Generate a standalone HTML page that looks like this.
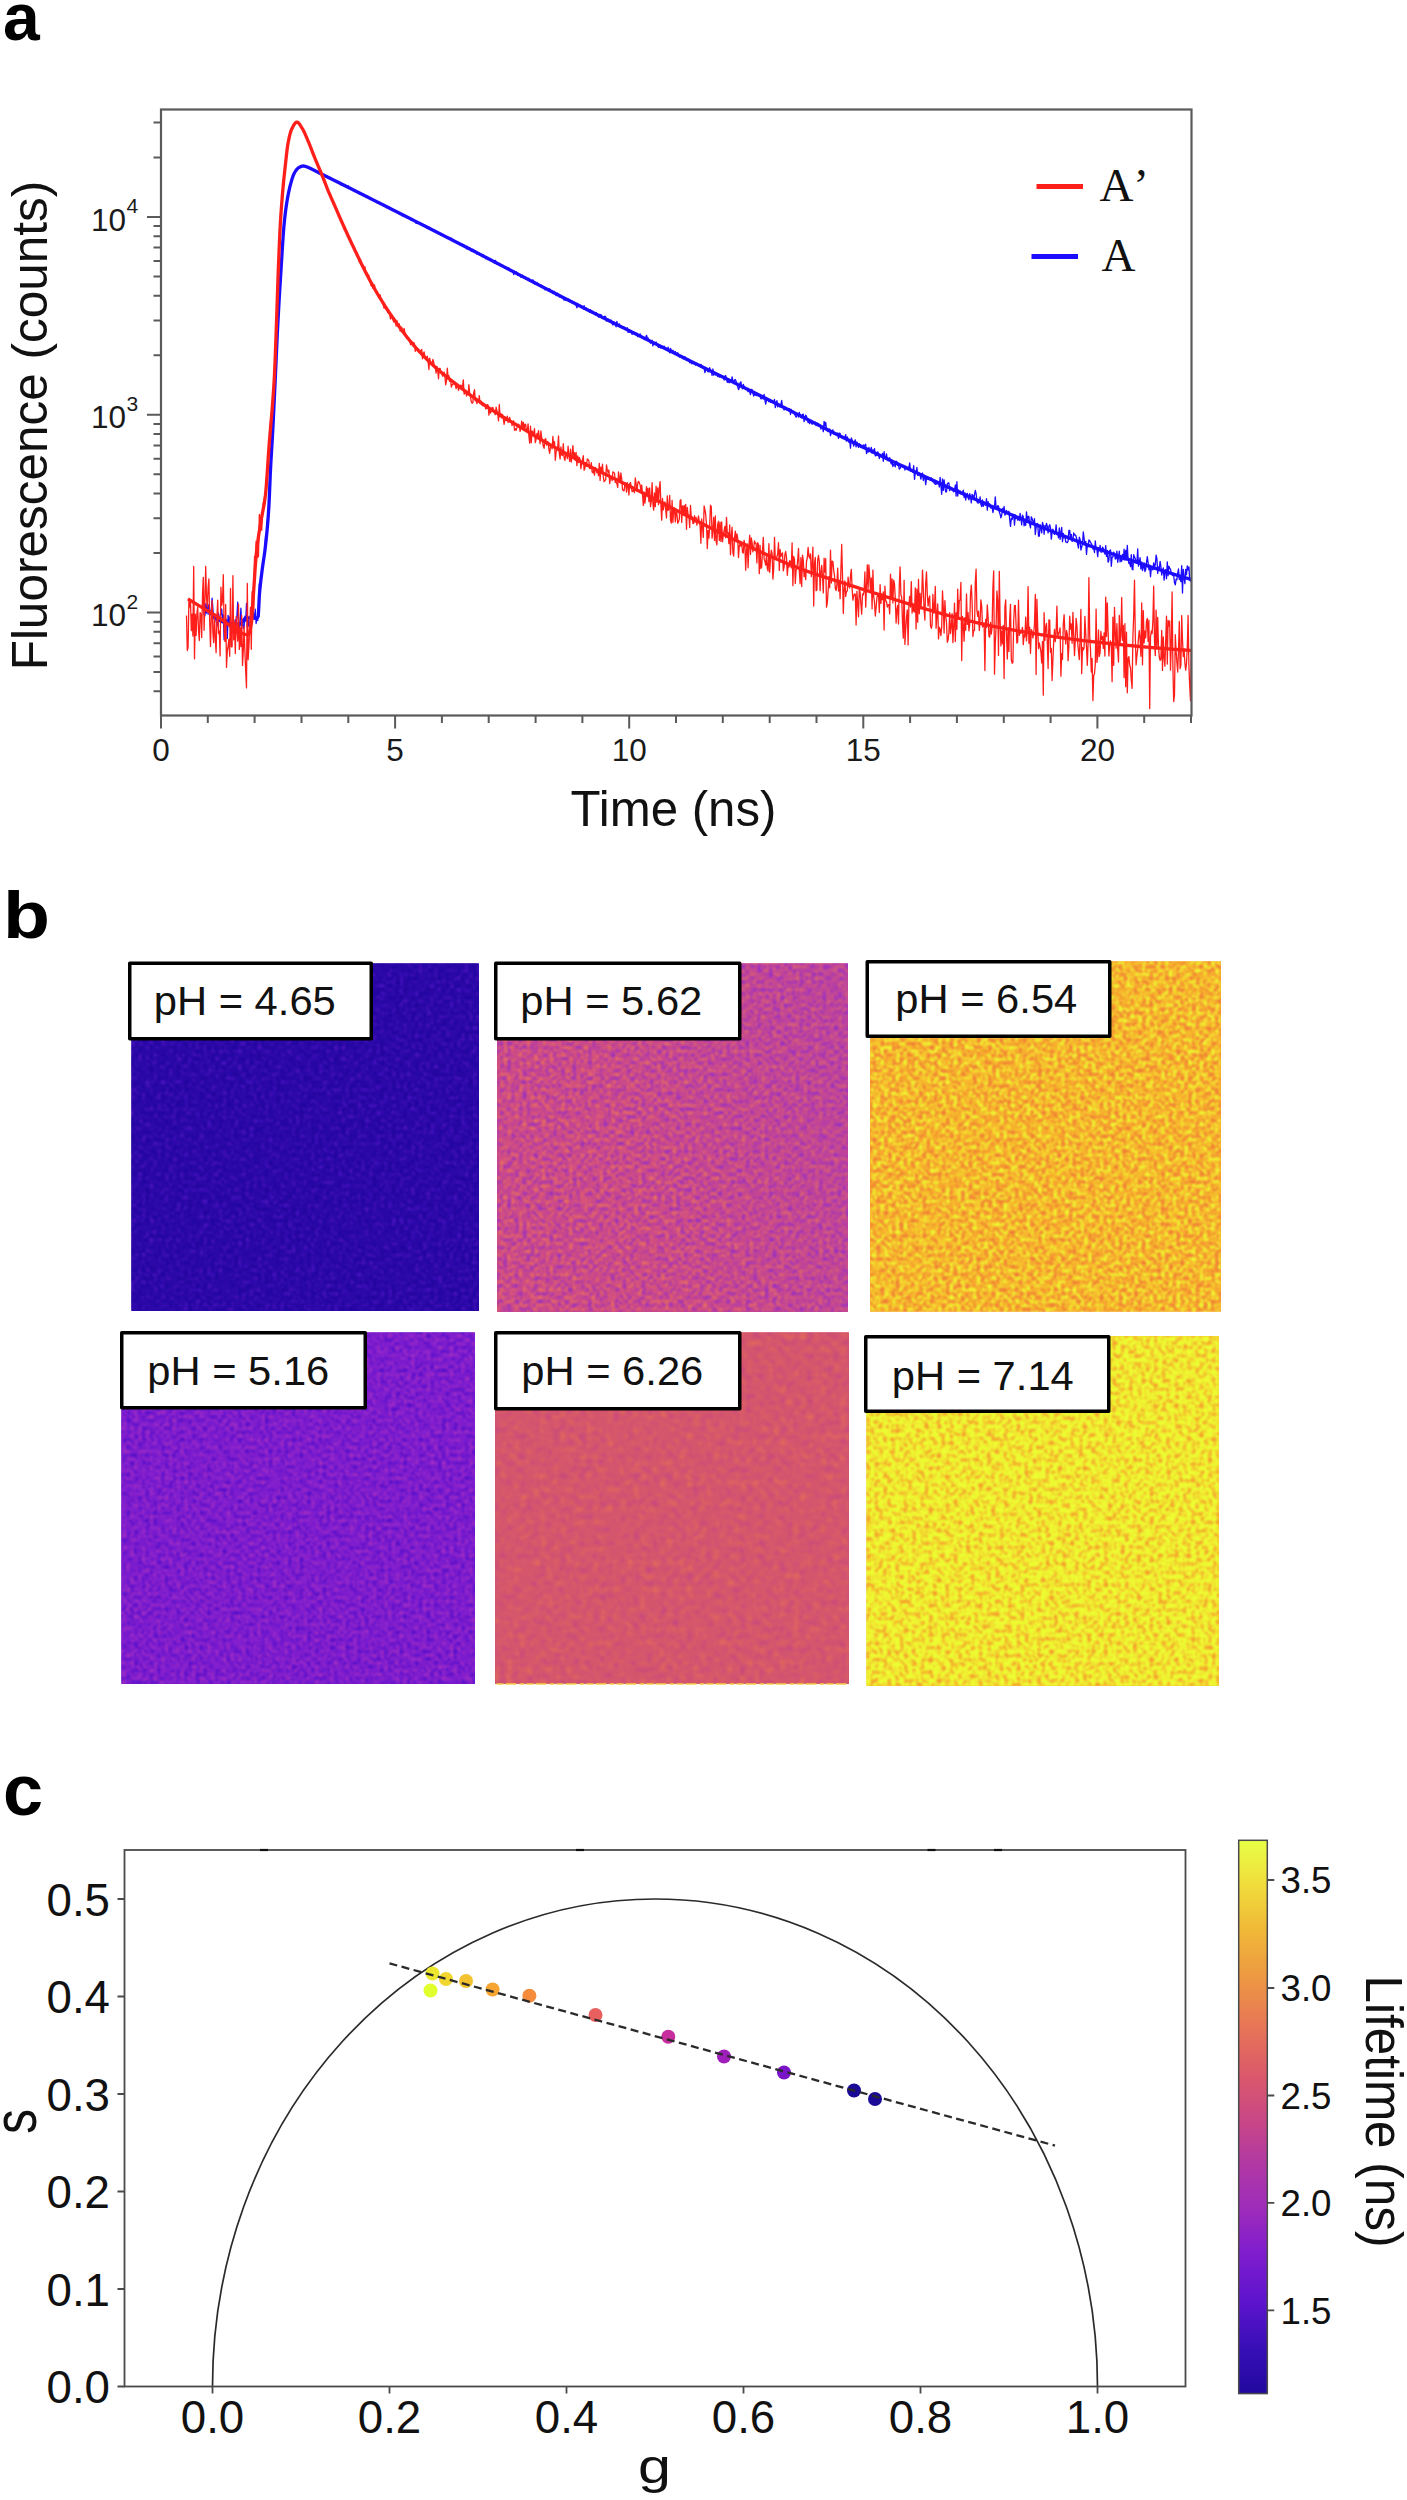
<!DOCTYPE html>
<html lang="en"><head><meta charset="utf-8"><title>Figure</title>
<style>html,body{margin:0;padding:0;background:#fff;}body{width:1407px;height:2500px;overflow:hidden;font-family:"Liberation Sans",sans-serif;}svg{display:block;}</style>
</head><body>
<svg width="1407" height="2500" viewBox="0 0 1407 2500">
<rect width="1407" height="2500" fill="#fff"/>
<g id="pa">
<path d="M153.5 691.3H161.0M153.5 672.1H161.0M153.5 656.5H161.0M153.5 643.2H161.0M153.5 631.8H161.0M153.5 621.7H161.0M147.0 612.6H161.0M153.5 553.1H161.0M153.5 518.2H161.0M153.5 493.5H161.0M153.5 474.3H161.0M153.5 458.7H161.0M153.5 445.4H161.0M153.5 434.0H161.0M153.5 423.9H161.0M147.0 414.8H161.0M153.5 355.3H161.0M153.5 320.4H161.0M153.5 295.7H161.0M153.5 276.5H161.0M153.5 260.9H161.0M153.5 247.6H161.0M153.5 236.2H161.0M153.5 226.1H161.0M147.0 217.0H161.0M153.5 157.5H161.0M153.5 122.6H161.0" stroke="#5a5a5a" stroke-width="2" fill="none"/>
<path d="M161.0 715.5v13M207.8 715.5v7.5M254.6 715.5v7.5M301.5 715.5v7.5M348.3 715.5v7.5M395.1 715.5v13M441.9 715.5v7.5M488.7 715.5v7.5M535.6 715.5v7.5M582.4 715.5v7.5M629.2 715.5v13M676.0 715.5v7.5M722.8 715.5v7.5M769.7 715.5v7.5M816.5 715.5v7.5M863.3 715.5v13M910.1 715.5v7.5M956.9 715.5v7.5M1003.8 715.5v7.5M1050.6 715.5v7.5M1097.4 715.5v13M1144.2 715.5v7.5M1191.0 715.5v7.5" stroke="#5a5a5a" stroke-width="2" fill="none"/>
<clipPath id="clipa"><rect x="161.0" y="109.5" width="1032.0" height="606.0"/></clipPath>
<g clip-path="url(#clipa)" fill="none" stroke-linejoin="round">
<path d="M203.3 602.4L204.1 614.4L204.9 615.8L205.7 609.0L206.5 613.0L207.3 603.1L208.1 614.3L208.9 604.7L209.7 610.8L210.5 611.9L211.3 610.1L212.1 598.1L212.9 608.8L213.7 618.7L214.5 616.3L215.3 614.3L216.1 621.4L216.9 624.1L217.7 625.9L218.5 613.1L219.3 620.2L220.1 617.8L220.9 613.7L221.7 609.0L222.5 620.8L223.3 614.7L224.1 639.8L224.9 621.6L225.7 620.8L226.5 619.5L227.3 638.5L228.1 615.3L228.9 621.9L229.7 617.0L230.5 622.5L231.3 623.3L232.1 632.8L232.9 611.9L233.7 623.6L234.5 637.2L235.3 619.6L236.1 622.4L236.9 616.5L237.7 602.1L238.5 623.0L239.3 633.6L240.1 620.0L240.9 608.2L241.7 624.9L242.5 622.3L243.3 628.5L244.1 626.6L244.9 616.2L245.7 621.1L246.5 603.5L247.3 626.8L248.1 619.3L248.9 626.5L249.7 626.3L250.5 615.6L251.3 616.7L252.1 610.9L252.9 601.4L253.7 616.8L254.5 619.1L255.3 609.2L256.1 623.5L256.9 618.6L257.7 620.6L258.5 607.8L259.3 584.0L260.1 592.0L260.9 583.7L261.7 572.9L262.5 564.9L263.3 560.2L264.1 555.6L264.9 547.9L265.7 533.9L266.5 539.8L267.3 521.2L268.1 516.7L268.9 505.1L269.7 489.3L270.5 464.6L271.3 458.5L272.1 443.5L272.9 429.2L273.7 414.2L274.5 393.2L275.3 372.6L276.1 360.7L276.9 344.3L277.7 327.6L278.5 310.7L279.3 297.4L280.1 284.6L280.9 269.9L281.7 258.1L282.5 245.4L283.3 235.3L284.1 223.9L284.9 217.7L285.7 210.1L286.5 203.3L287.3 200.8L288.1 194.4L288.9 191.4L289.7 188.6L290.5 184.2L291.3 180.9L292.1 179.4L292.9 176.5L293.7 173.8L294.5 172.3L295.3 171.3L296.1 170.8L296.9 169.1L297.7 168.8L298.5 168.6L299.3 167.9L300.1 167.6L300.9 167.2L301.7 165.5L302.5 166.7L303.3 166.2L304.1 166.0L304.9 165.7L305.7 165.7L306.5 166.2L307.3 167.0L308.1 166.8L308.9 167.3L309.7 167.8L310.5 168.8L311.3 168.7L312.1 169.2L312.9 170.3L313.7 169.9L314.5 170.8L315.3 170.3L316.1 171.5L316.9 171.8L317.7 172.2L318.5 172.3L319.3 172.4L320.1 173.2L320.9 173.5L321.7 174.7L322.5 175.0L323.3 174.3L324.1 175.7L324.9 175.5L325.7 176.4L326.5 176.3L327.3 176.1L328.1 177.9L328.9 178.0L329.7 177.4L330.5 177.5L331.3 178.6L332.1 178.7L332.9 179.5L333.7 180.4L334.5 181.3L335.3 180.7L336.1 182.1L336.9 182.3L337.7 181.9L338.5 181.6L339.3 183.4L340.1 183.6L340.9 185.0L341.7 184.9L342.5 184.9L343.3 185.9L344.1 184.7L344.9 185.8L345.7 185.9L346.5 187.5L347.3 187.2L348.1 185.6L348.9 188.5L349.7 187.6L350.5 189.0L351.3 188.6L352.1 189.4L352.9 190.1L353.7 190.2L354.5 189.9L355.3 191.7L356.1 191.5L356.9 191.7L357.7 192.5L358.5 192.2L359.3 194.1L360.1 193.5L360.9 193.9L361.7 194.3L362.5 194.0L363.3 194.2L364.1 195.5L364.9 196.0L365.7 197.0L366.5 196.8L367.3 196.3L368.1 197.7L368.9 198.3L369.7 198.8L370.5 198.8L371.3 198.2L372.1 200.1L372.9 199.3L373.7 200.5L374.5 199.6L375.3 201.5L376.1 200.9L376.9 202.5L377.7 203.3L378.5 203.3L379.3 202.3L380.1 202.8L380.9 203.3L381.7 204.6L382.5 204.8L383.3 205.1L384.1 205.6L384.9 206.2L385.7 206.7L386.5 207.7L387.3 207.0L388.1 207.6L388.9 206.6L389.7 207.4L390.5 208.2L391.3 208.3L392.1 209.6L392.9 210.6L393.7 210.0L394.5 210.4L395.3 210.7L396.1 211.6L396.9 211.5L397.7 212.6L398.5 212.9L399.3 213.3L400.1 214.0L400.9 213.9L401.7 214.4L402.5 215.9L403.3 215.1L404.1 216.1L404.9 216.0L405.7 216.0L406.5 216.4L407.3 216.6L408.1 217.6L408.9 217.5L409.7 218.1L410.5 219.6L411.3 219.1L412.1 220.4L412.9 220.2L413.7 221.0L414.5 220.4L415.3 221.3L416.1 223.5L416.9 222.6L417.7 223.1L418.5 223.0L419.3 223.9L420.1 222.8L420.9 223.4L421.7 224.8L422.5 225.5L423.3 225.0L424.1 225.5L424.9 225.8L425.7 226.4L426.5 226.0L427.3 226.3L428.1 227.6L428.9 226.8L429.7 227.8L430.5 228.4L431.3 228.6L432.1 229.9L432.9 229.8L433.7 230.5L434.5 230.2L435.3 230.8L436.1 232.2L436.9 232.4L437.7 232.2L438.5 233.3L439.3 233.5L440.1 233.9L440.9 235.4L441.7 234.3L442.5 235.3L443.3 235.8L444.1 235.7L444.9 235.4L445.7 237.2L446.5 237.3L447.3 237.5L448.1 237.9L448.9 238.3L449.7 238.0L450.5 239.3L451.3 238.1L452.1 239.9L452.9 239.2L453.7 240.5L454.5 241.7L455.3 241.3L456.1 241.6L456.9 242.8L457.7 242.6L458.5 242.9L459.3 243.3L460.1 245.2L460.9 245.0L461.7 245.2L462.5 244.3L463.3 246.2L464.1 245.0L464.9 246.9L465.7 246.0L466.5 248.9L467.3 246.3L468.1 249.1L468.9 249.2L469.7 247.5L470.5 249.2L471.3 251.0L472.1 251.1L472.9 249.2L473.7 250.6L474.5 250.4L475.3 251.0L476.1 251.7L476.9 254.2L477.7 253.2L478.5 253.3L479.3 253.6L480.1 254.9L480.9 255.3L481.7 254.4L482.5 256.8L483.3 255.0L484.1 256.2L484.9 257.2L485.7 258.7L486.5 257.3L487.3 258.3L488.1 259.6L488.9 259.4L489.7 260.3L490.5 260.6L491.3 260.4L492.1 261.1L492.9 261.8L493.7 261.4L494.5 263.2L495.3 260.4L496.1 261.8L496.9 264.4L497.7 263.9L498.5 263.3L499.3 264.7L500.1 265.7L500.9 264.6L501.7 266.3L502.5 265.9L503.3 266.3L504.1 266.8L504.9 268.3L505.7 266.6L506.5 267.7L507.3 269.1L508.1 267.8L508.9 267.9L509.7 270.3L510.5 270.2L511.3 270.4L512.1 271.1L512.9 270.5L513.7 274.6L514.5 271.3L515.3 272.3L516.1 271.7L516.9 273.1L517.7 275.4L518.5 274.4L519.3 275.3L520.1 274.7L520.9 277.3L521.7 276.2L522.5 275.2L523.3 277.6L524.1 276.9L524.9 278.3L525.7 278.2L526.5 278.8L527.3 279.1L528.1 278.4L528.9 278.3L529.7 281.1L530.5 280.5L531.3 281.3L532.1 281.0L532.9 279.8L533.7 281.0L534.5 284.1L535.3 282.3L536.1 283.1L536.9 282.4L537.7 283.8L538.5 284.4L539.3 284.9L540.1 285.5L540.9 285.3L541.7 285.8L542.5 286.8L543.3 287.6L544.1 287.5L544.9 289.9L545.7 288.7L546.5 289.1L547.3 288.6L548.1 290.8L548.9 289.0L549.7 288.8L550.5 289.9L551.3 292.0L552.1 290.5L552.9 293.6L553.7 292.6L554.5 291.4L555.3 293.2L556.1 295.7L556.9 293.3L557.7 293.2L558.5 295.6L559.3 296.9L560.1 297.0L560.9 295.9L561.7 296.9L562.5 297.5L563.3 298.8L564.1 300.3L564.9 298.2L565.7 300.2L566.5 298.8L567.3 300.2L568.1 298.9L568.9 299.5L569.7 301.2L570.5 300.2L571.3 302.6L572.1 301.4L572.9 302.5L573.7 302.7L574.5 302.8L575.3 303.8L576.1 305.2L576.9 307.9L577.7 303.5L578.5 305.6L579.3 305.4L580.1 305.0L580.9 306.8L581.7 305.8L582.5 307.2L583.3 309.1L584.1 305.7L584.9 308.8L585.7 309.4L586.5 308.1L587.3 310.3L588.1 310.5L588.9 310.1L589.7 312.3L590.5 309.7L591.3 312.5L592.1 311.8L592.9 311.2L593.7 312.7L594.5 312.9L595.3 314.7L596.1 312.3L596.9 314.3L597.7 314.3L598.5 317.2L599.3 314.3L600.1 317.4L600.9 314.3L601.7 317.3L602.5 317.1L603.3 318.2L604.1 317.2L604.9 316.1L605.7 317.0L606.5 321.0L607.3 320.0L608.1 319.0L608.9 321.6L609.7 320.0L610.5 320.4L611.3 320.2L612.1 323.6L612.9 325.0L613.7 321.7L614.5 323.7L615.3 325.0L616.1 326.8L616.9 321.4L617.7 325.1L618.5 326.1L619.3 323.8L620.1 326.6L620.9 326.7L621.7 327.8L622.5 326.5L623.3 328.2L624.1 327.3L624.9 329.3L625.7 329.1L626.5 328.8L627.3 327.8L628.1 332.3L628.9 331.9L629.7 332.0L630.5 330.4L631.3 331.2L632.1 334.3L632.9 333.5L633.7 331.7L634.5 333.3L635.3 333.8L636.1 333.8L636.9 333.1L637.7 336.6L638.5 336.0L639.3 335.4L640.1 333.9L640.9 335.6L641.7 336.8L642.5 338.4L643.3 337.1L644.1 339.6L644.9 338.6L645.7 337.8L646.5 335.3L647.3 338.0L648.1 337.9L648.9 340.2L649.7 341.3L650.5 343.2L651.3 341.6L652.1 340.3L652.9 345.8L653.7 343.2L654.5 342.8L655.3 343.2L656.1 342.0L656.9 345.3L657.7 345.3L658.5 347.5L659.3 347.2L660.1 347.2L660.9 348.2L661.7 346.3L662.5 346.5L663.3 347.5L664.1 346.1L664.9 348.1L665.7 348.2L666.5 350.1L667.3 349.5L668.1 347.1L668.9 350.4L669.7 352.9L670.5 348.3L671.3 350.4L672.1 351.9L672.9 350.3L673.7 351.9L674.5 353.2L675.3 351.5L676.1 354.3L676.9 354.9L677.7 352.7L678.5 355.1L679.3 357.1L680.1 355.6L680.9 356.9L681.7 357.7L682.5 356.7L683.3 359.0L684.1 358.5L684.9 356.7L685.7 359.5L686.5 360.4L687.3 360.7L688.1 358.8L688.9 361.0L689.7 362.8L690.5 361.4L691.3 363.3L692.1 363.9L692.9 362.2L693.7 363.7L694.5 362.5L695.3 365.1L696.1 363.7L696.9 363.3L697.7 364.6L698.5 364.9L699.3 366.0L700.1 366.5L700.9 364.3L701.7 365.5L702.5 367.6L703.3 368.2L704.1 367.9L704.9 372.6L705.7 370.4L706.5 368.8L707.3 370.6L708.1 372.0L708.9 370.8L709.7 367.6L710.5 371.1L711.3 371.4L712.1 375.4L712.9 369.0L713.7 375.2L714.5 372.7L715.3 374.9L716.1 373.2L716.9 374.4L717.7 376.5L718.5 375.1L719.3 377.2L720.1 375.6L720.9 375.4L721.7 376.1L722.5 376.0L723.3 377.1L724.1 380.1L724.9 376.0L725.7 375.6L726.5 378.9L727.3 382.3L728.1 381.6L728.9 382.5L729.7 382.7L730.5 379.6L731.3 381.5L732.1 376.9L732.9 381.0L733.7 383.6L734.5 380.0L735.3 379.5L736.1 381.3L736.9 384.5L737.7 386.6L738.5 389.6L739.3 387.9L740.1 382.9L740.9 381.8L741.7 386.8L742.5 388.8L743.3 384.3L744.1 386.7L744.9 387.2L745.7 388.5L746.5 388.5L747.3 390.3L748.1 391.7L748.9 390.2L749.7 391.9L750.5 394.7L751.3 389.3L752.1 389.7L752.9 393.1L753.7 396.1L754.5 393.2L755.3 395.4L756.1 393.1L756.9 395.9L757.7 393.3L758.5 396.2L759.3 396.1L760.1 396.5L760.9 398.8L761.7 398.6L762.5 395.7L763.3 399.1L764.1 394.4L764.9 400.1L765.7 404.0L766.5 400.0L767.3 400.4L768.1 399.9L768.9 401.8L769.7 399.7L770.5 402.3L771.3 400.8L772.1 400.9L772.9 402.5L773.7 402.5L774.5 399.5L775.3 407.7L776.1 404.1L776.9 400.7L777.7 406.9L778.5 405.0L779.3 405.9L780.1 407.3L780.9 404.4L781.7 400.5L782.5 406.8L783.3 408.0L784.1 410.0L784.9 406.7L785.7 408.1L786.5 409.9L787.3 408.8L788.1 409.3L788.9 410.8L789.7 408.5L790.5 414.5L791.3 409.5L792.1 412.0L792.9 411.6L793.7 411.2L794.5 414.3L795.3 415.7L796.1 417.1L796.9 415.6L797.7 413.7L798.5 417.0L799.3 412.3L800.1 416.0L800.9 417.5L801.7 418.0L802.5 414.6L803.3 414.2L804.1 421.7L804.9 417.2L805.7 415.1L806.5 416.4L807.3 419.6L808.1 422.7L808.9 420.4L809.7 423.5L810.5 421.7L811.3 422.7L812.1 424.3L812.9 421.6L813.7 423.5L814.5 422.4L815.3 422.2L816.1 425.6L816.9 422.6L817.7 425.1L818.5 423.5L819.3 425.5L820.1 424.9L820.9 429.1L821.7 427.1L822.5 427.5L823.3 431.7L824.1 421.3L824.9 425.9L825.7 422.4L826.5 429.4L827.3 430.8L828.1 431.7L828.9 431.2L829.7 428.9L830.5 435.6L831.3 432.5L832.1 431.5L832.9 429.8L833.7 434.0L834.5 432.2L835.3 432.7L836.1 434.7L836.9 435.1L837.7 432.9L838.5 438.4L839.3 433.2L840.1 433.3L840.9 437.3L841.7 437.2L842.5 437.4L843.3 436.6L844.1 438.2L844.9 437.0L845.7 434.6L846.5 441.1L847.3 437.0L848.1 439.4L848.9 442.3L849.7 440.8L850.5 448.2L851.3 437.9L852.1 440.0L852.9 442.6L853.7 446.2L854.5 442.5L855.3 439.8L856.1 446.9L856.9 441.9L857.7 444.1L858.5 447.4L859.3 443.7L860.1 444.6L860.9 447.5L861.7 446.0L862.5 447.7L863.3 444.8L864.1 447.4L864.9 445.2L865.7 444.3L866.5 453.6L867.3 450.5L868.1 452.2L868.9 447.4L869.7 450.4L870.5 450.3L871.3 447.3L872.1 453.1L872.9 450.0L873.7 451.8L874.5 448.6L875.3 455.9L876.1 455.6L876.9 455.0L877.7 451.8L878.5 453.2L879.3 458.5L880.1 454.7L880.9 456.6L881.7 456.6L882.5 453.4L883.3 461.3L884.1 451.7L884.9 458.4L885.7 457.9L886.5 453.9L887.3 459.8L888.1 460.8L888.9 459.8L889.7 457.6L890.5 461.7L891.3 464.0L892.1 461.8L892.9 466.6L893.7 464.4L894.5 464.6L895.3 466.8L896.1 461.1L896.9 461.9L897.7 465.4L898.5 465.7L899.3 469.1L900.1 468.4L900.9 465.9L901.7 466.4L902.5 465.3L903.3 465.4L904.1 465.5L904.9 470.0L905.7 466.2L906.5 466.9L907.3 468.9L908.1 467.2L908.9 468.4L909.7 462.9L910.5 471.1L911.3 469.4L912.1 471.3L912.9 472.2L913.7 465.7L914.5 479.3L915.3 472.7L916.1 473.2L916.9 467.5L917.7 475.4L918.5 475.1L919.3 473.1L920.1 475.4L920.9 479.1L921.7 474.4L922.5 473.0L923.3 480.5L924.1 477.5L924.9 476.4L925.7 484.7L926.5 478.3L927.3 477.6L928.1 479.4L928.9 477.6L929.7 479.9L930.5 480.1L931.3 477.8L932.1 479.5L932.9 481.7L933.7 482.3L934.5 483.3L935.3 484.4L936.1 483.0L936.9 484.2L937.7 481.6L938.5 482.4L939.3 487.0L940.1 477.4L940.9 485.5L941.7 494.3L942.5 478.8L943.3 490.4L944.1 479.8L944.9 487.3L945.7 491.9L946.5 491.8L947.3 484.0L948.1 483.0L948.9 482.9L949.7 490.6L950.5 487.1L951.3 488.9L952.1 490.1L952.9 490.9L953.7 491.7L954.5 490.7L955.3 485.0L956.1 496.0L956.9 481.7L957.7 496.0L958.5 489.9L959.3 491.7L960.1 490.9L960.9 491.8L961.7 493.3L962.5 492.8L963.3 490.2L964.1 497.5L964.9 492.8L965.7 500.0L966.5 495.0L967.3 493.4L968.1 497.8L968.9 499.8L969.7 493.6L970.5 496.3L971.3 502.8L972.1 494.4L972.9 495.3L973.7 499.3L974.5 494.6L975.3 490.4L976.1 493.6L976.9 501.5L977.7 502.9L978.5 503.0L979.3 502.6L980.1 496.9L980.9 504.4L981.7 506.5L982.5 499.9L983.3 506.4L984.1 501.9L984.9 504.3L985.7 505.3L986.5 498.7L987.3 510.2L988.1 501.7L988.9 504.9L989.7 503.8L990.5 507.8L991.3 508.0L992.1 506.8L992.9 512.5L993.7 508.5L994.5 506.2L995.3 496.9L996.1 507.3L996.9 507.6L997.7 505.7L998.5 506.1L999.3 512.1L1000.1 514.2L1000.9 517.9L1001.7 515.3L1002.5 508.4L1003.3 512.5L1004.1 506.4L1004.9 515.1L1005.7 513.9L1006.5 510.4L1007.3 512.8L1008.1 512.5L1008.9 511.3L1009.7 519.5L1010.5 526.4L1011.3 518.2L1012.1 519.5L1012.9 516.2L1013.7 514.4L1014.5 525.1L1015.3 515.0L1016.1 518.5L1016.9 516.7L1017.7 520.0L1018.5 517.7L1019.3 520.7L1020.1 513.3L1020.9 518.4L1021.7 524.9L1022.5 515.2L1023.3 517.1L1024.1 525.9L1024.9 522.2L1025.7 525.3L1026.5 511.8L1027.3 522.1L1028.1 516.5L1028.9 516.3L1029.7 524.2L1030.5 527.9L1031.3 516.8L1032.1 518.8L1032.9 521.3L1033.7 523.6L1034.5 518.7L1035.3 534.5L1036.1 527.6L1036.9 523.9L1037.7 523.5L1038.5 536.2L1039.3 536.1L1040.1 524.6L1040.9 528.5L1041.7 532.9L1042.5 522.5L1043.3 525.4L1044.1 534.3L1044.9 525.6L1045.7 527.0L1046.5 523.3L1047.3 526.2L1048.1 532.9L1048.9 526.5L1049.7 524.7L1050.5 528.0L1051.3 539.1L1052.1 532.3L1052.9 529.2L1053.7 532.8L1054.5 534.4L1055.3 533.3L1056.1 524.8L1056.9 534.7L1057.7 532.7L1058.5 537.8L1059.3 528.0L1060.1 539.4L1060.9 532.6L1061.7 527.3L1062.5 541.7L1063.3 533.4L1064.1 537.8L1064.9 535.7L1065.7 541.8L1066.5 542.2L1067.3 542.6L1068.1 541.0L1068.9 530.3L1069.7 530.3L1070.5 539.5L1071.3 534.3L1072.1 541.4L1072.9 540.2L1073.7 533.0L1074.5 535.1L1075.3 534.9L1076.1 536.4L1076.9 540.0L1077.7 544.6L1078.5 548.0L1079.3 537.2L1080.1 539.4L1080.9 550.0L1081.7 547.1L1082.5 544.2L1083.3 531.9L1084.1 538.7L1084.9 544.7L1085.7 541.4L1086.5 554.4L1087.3 545.3L1088.1 546.6L1088.9 540.0L1089.7 540.6L1090.5 542.7L1091.3 543.2L1092.1 545.5L1092.9 548.8L1093.7 548.4L1094.5 552.5L1095.3 541.0L1096.1 549.1L1096.9 549.6L1097.7 556.7L1098.5 547.8L1099.3 550.9L1100.1 545.4L1100.9 552.0L1101.7 552.1L1102.5 547.2L1103.3 548.4L1104.1 550.8L1104.9 554.2L1105.7 545.6L1106.5 556.4L1107.3 550.4L1108.1 562.2L1108.9 560.2L1109.7 550.8L1110.5 549.9L1111.3 566.3L1112.1 557.1L1112.9 557.0L1113.7 552.1L1114.5 553.9L1115.3 559.1L1116.1 558.4L1116.9 551.1L1117.7 562.3L1118.5 557.7L1119.3 551.2L1120.1 561.9L1120.9 555.9L1121.7 561.3L1122.5 554.4L1123.3 559.6L1124.1 549.2L1124.9 560.2L1125.7 550.3L1126.5 559.7L1127.3 545.3L1128.1 559.0L1128.9 563.5L1129.7 562.5L1130.5 566.7L1131.3 554.6L1132.1 569.3L1132.9 569.8L1133.7 554.6L1134.5 557.1L1135.3 558.6L1136.1 561.9L1136.9 563.3L1137.7 548.9L1138.5 566.1L1139.3 561.7L1140.1 557.7L1140.9 568.9L1141.7 562.0L1142.5 570.5L1143.3 567.4L1144.1 562.9L1144.9 571.5L1145.7 569.8L1146.5 562.6L1147.3 556.6L1148.1 562.9L1148.9 569.8L1149.7 565.2L1150.5 576.8L1151.3 568.5L1152.1 568.4L1152.9 569.9L1153.7 562.8L1154.5 567.4L1155.3 564.5L1156.1 555.1L1156.9 558.6L1157.7 573.4L1158.5 566.8L1159.3 568.9L1160.1 561.3L1160.9 566.7L1161.7 575.0L1162.5 571.2L1163.3 567.9L1164.1 580.1L1164.9 571.1L1165.7 569.6L1166.5 578.6L1167.3 561.9L1168.1 575.7L1168.9 566.1L1169.7 568.3L1170.5 569.1L1171.3 574.2L1172.1 574.3L1172.9 575.7L1173.7 575.4L1174.5 582.8L1175.3 584.8L1176.1 579.2L1176.9 579.7L1177.7 573.1L1178.5 569.0L1179.3 579.5L1180.1 576.4L1180.9 581.6L1181.7 565.6L1182.5 593.1L1183.3 569.4L1184.1 577.6L1184.9 583.6L1185.7 569.4L1186.5 574.7L1187.3 565.9L1188.1 569.8L1188.9 566.9L1189.7 579.7L1190.5 581.1L1191.3 577.6" stroke="#1c0cff" stroke-width="1.3"/>
<path d="M203.3 602.7L203.8 603.6L204.3 604.4L204.8 605.2L205.3 606.0L205.8 606.8L206.3 607.5L206.8 608.2L207.3 608.9L207.8 609.6L208.3 610.3L208.8 610.9L209.3 611.5L209.8 612.1L210.3 612.7L210.8 613.3L211.3 613.8L211.8 614.3L212.3 614.8L212.8 615.3L213.3 615.8L213.8 616.3L214.3 616.7L214.8 617.1L215.3 617.5L215.8 617.9L216.3 618.3L216.8 618.6L217.3 619.0L217.8 619.3L218.3 619.6L218.8 619.9L219.3 620.2L219.8 620.4L220.3 620.7L220.8 621.0L221.3 621.2L221.8 621.4L222.3 621.6L222.8 621.8L223.3 622.0L223.8 622.2L224.3 622.3L224.8 622.5L225.3 622.6L225.8 622.8L226.3 622.9L226.8 623.0L227.3 623.1L227.8 623.2L228.3 623.3L228.8 623.4L229.3 623.5L229.8 623.5L230.3 623.6L230.8 623.7L231.3 623.7L231.8 623.8L232.3 623.8L232.8 623.8L233.3 623.9L233.8 623.9L234.3 623.9L234.8 623.9L235.3 624.0L235.8 624.0L236.3 624.0L236.8 624.0L237.3 624.0L237.8 624.0L238.3 624.0L238.8 624.0L239.3 624.0L239.8 624.0L240.3 624.0L240.8 623.7L241.3 623.3L241.8 622.7L242.3 622.0L242.8 621.3L243.3 620.6L243.8 619.8L244.3 619.2L244.8 618.6L245.3 618.2L245.8 618.0L246.3 618.0L246.8 618.0L247.3 618.0L247.8 618.0L248.3 618.0L248.8 618.0L249.3 618.0L249.8 618.0L250.3 618.0L250.8 618.0L251.3 618.0L251.8 618.0L252.3 618.0L252.8 618.0L253.3 618.0L253.8 618.0L254.3 618.0L254.8 618.0L255.3 618.0L255.8 618.0L256.3 618.0L256.8 617.9L257.3 617.6L257.8 617.0L258.3 616.0L258.8 606.7L259.3 596.2L259.8 590.2L260.3 585.2L260.8 580.8L261.3 576.8L261.8 572.8L262.3 568.8L262.8 565.2L263.3 561.8L263.8 558.5L264.3 555.0L264.8 551.4L265.3 547.3L265.8 542.8L266.3 538.2L266.8 533.2L267.3 527.9L267.8 522.0L268.3 515.4L268.8 508.0L269.3 498.1L269.8 485.9L270.3 473.8L270.8 463.9L271.3 455.1L271.8 446.8L272.3 438.4L272.8 429.3L273.3 419.6L273.8 409.4L274.3 399.0L274.8 388.4L275.3 377.9L275.8 366.9L276.3 355.7L276.8 344.6L277.3 334.0L277.8 324.2L278.3 315.0L278.8 306.1L279.3 297.5L279.8 289.2L280.3 281.1L280.8 273.2L281.3 265.2L281.8 257.1L282.3 249.1L282.8 241.3L283.3 234.1L283.8 227.7L284.3 222.4L284.8 217.6L285.3 213.2L285.8 209.3L286.3 205.7L286.8 202.5L287.3 199.5L287.8 196.6L288.3 194.0L288.8 191.6L289.3 189.3L289.8 187.2L290.3 185.2L290.8 183.4L291.3 181.6L291.8 179.8L292.3 178.2L292.8 176.7L293.3 175.4L293.8 174.2L294.3 173.2L294.8 172.3L295.3 171.5L295.8 170.7L296.3 170.0L296.8 169.4L297.3 168.8L297.8 168.3L298.3 167.9L298.8 167.6L299.3 167.3L299.8 167.0L300.3 166.8L300.8 166.6L301.3 166.4L301.8 166.3L302.3 166.1L302.8 166.0L303.3 166.0L303.8 166.0L304.3 166.1L304.8 166.2L305.3 166.4L305.8 166.5L306.3 166.7L306.8 166.9L307.3 167.0L307.8 167.3L308.3 167.5L308.8 167.7L309.3 167.9L309.8 168.1L310.3 168.4L310.8 168.6L311.3 168.8L311.8 169.1L312.3 169.3L312.8 169.6L313.3 169.9L313.8 170.1L314.3 170.4L314.8 170.6L315.3 170.9L315.8 171.2L316.3 171.4L316.8 171.7L317.3 171.9L317.8 172.2L318.3 172.5L318.8 172.7L319.3 173.0L319.8 173.2L320.3 173.5L320.8 173.7L321.3 174.0L321.8 174.2L322.3 174.4L322.8 174.7L323.3 174.9L323.8 175.2L324.3 175.4L324.8 175.7L325.3 175.9L325.8 176.2L326.3 176.4L326.8 176.7L327.3 176.9L327.8 177.2L328.3 177.4L328.8 177.7L329.3 177.9L329.8 178.2L330.3 178.4L330.8 178.7L331.3 178.9L331.8 179.2L332.3 179.4L332.8 179.7L333.3 179.9L333.8 180.2L334.3 180.4L334.8 180.7L335.3 180.9L335.8 181.1L336.3 181.4L336.8 181.6L337.3 181.9L337.8 182.1L338.3 182.4L338.8 182.6L339.3 182.9L339.8 183.1L340.3 183.4L340.8 183.6L341.3 183.9L341.8 184.1L342.3 184.4L342.8 184.6L343.3 184.9L343.8 185.1L344.3 185.4L344.8 185.6L345.3 185.9L345.8 186.1L346.3 186.4L346.8 186.6L347.3 186.9L347.8 187.1L348.3 187.4L348.8 187.6L349.3 187.9L349.8 188.1L350.3 188.4L350.8 188.6L351.3 188.9L351.8 189.1L352.3 189.4L352.8 189.7L353.3 189.9L353.8 190.2L354.3 190.4L354.8 190.7L355.3 190.9L355.8 191.2L356.3 191.4L356.8 191.7L357.3 191.9L357.8 192.2L358.3 192.4L358.8 192.7L359.3 192.9L359.8 193.2L360.3 193.4L360.8 193.7L361.3 193.9L361.8 194.2L362.3 194.4L362.8 194.7L363.3 194.9L363.8 195.2L364.3 195.4L364.8 195.7L365.3 195.9L365.8 196.2L366.3 196.4L366.8 196.7L367.3 196.9L367.8 197.2L368.3 197.4L368.8 197.7L369.3 197.9L369.8 198.2L370.3 198.5L370.8 198.7L371.3 199.0L371.8 199.2L372.3 199.5L372.8 199.7L373.3 200.0L373.8 200.2L374.3 200.5L374.8 200.7L375.3 201.0L375.8 201.2L376.3 201.5L376.8 201.7L377.3 202.0L377.8 202.2L378.3 202.5L378.8 202.7L379.3 203.0L379.8 203.3L380.3 203.5L380.8 203.8L381.3 204.0L381.8 204.3L382.3 204.5L382.8 204.8L383.3 205.0L383.8 205.3L384.3 205.5L384.8 205.8L385.3 206.0L385.8 206.3L386.3 206.5L386.8 206.8L387.3 207.0L387.8 207.3L388.3 207.5L388.8 207.8L389.3 208.1L389.8 208.3L390.3 208.6L390.8 208.8L391.3 209.1L391.8 209.3L392.3 209.6L392.8 209.8L393.3 210.1L393.8 210.3L394.3 210.6L394.8 210.8L395.3 211.1L395.8 211.3L396.3 211.6L396.8 211.8L397.3 212.1L397.8 212.3L398.3 212.6L398.8 212.9L399.3 213.1L399.8 213.4L400.3 213.6L400.8 213.9L401.3 214.1L401.8 214.4L402.3 214.6L402.8 214.9L403.3 215.1L403.8 215.4L404.3 215.6L404.8 215.9L405.3 216.1L405.8 216.4L406.3 216.7L406.8 216.9L407.3 217.2L407.8 217.4L408.3 217.7L408.8 217.9L409.3 218.2L409.8 218.4L410.3 218.7L410.8 218.9L411.3 219.2L411.8 219.4L412.3 219.7L412.8 219.9L413.3 220.2L413.8 220.5L414.3 220.7L414.8 221.0L415.3 221.2L415.8 221.5L416.3 221.7L416.8 222.0L417.3 222.2L417.8 222.5L418.3 222.7L418.8 223.0L419.3 223.2L419.8 223.5L420.3 223.7L420.8 224.0L421.3 224.3L421.8 224.5L422.3 224.8L422.8 225.0L423.3 225.3L423.8 225.5L424.3 225.8L424.8 226.0L425.3 226.3L425.8 226.5L426.3 226.8L426.8 227.1L427.3 227.3L427.8 227.6L428.3 227.8L428.8 228.1L429.3 228.3L429.8 228.6L430.3 228.8L430.8 229.1L431.3 229.3L431.8 229.6L432.3 229.8L432.8 230.1L433.3 230.4L433.8 230.6L434.3 230.9L434.8 231.1L435.3 231.4L435.8 231.6L436.3 231.9L436.8 232.1L437.3 232.4L437.8 232.7L438.3 232.9L438.8 233.2L439.3 233.4L439.8 233.7L440.3 233.9L440.8 234.2L441.3 234.4L441.8 234.7L442.3 234.9L442.8 235.2L443.3 235.5L443.8 235.7L444.3 236.0L444.8 236.2L445.3 236.5L445.8 236.7L446.3 237.0L446.8 237.2L447.3 237.5L447.8 237.8L448.3 238.0L448.8 238.3L449.3 238.5L449.8 238.8L450.3 239.0L450.8 239.3L451.3 239.5L451.8 239.8L452.3 240.1L452.8 240.3L453.3 240.6L453.8 240.8L454.3 241.1L454.8 241.3L455.3 241.6L455.8 241.8L456.3 242.1L456.8 242.4L457.3 242.6L457.8 242.9L458.3 243.1L458.8 243.4L459.3 243.6L459.8 243.9L460.3 244.2L460.8 244.4L461.3 244.7L461.8 244.9L462.3 245.2L462.8 245.4L463.3 245.7L463.8 246.0L464.3 246.2L464.8 246.5L465.3 246.7L465.8 247.0L466.3 247.2L466.8 247.5L467.3 247.8L467.8 248.0L468.3 248.3L468.8 248.5L469.3 248.8L469.8 249.0L470.3 249.3L470.8 249.6L471.3 249.8L471.8 250.1L472.3 250.3L472.8 250.6L473.3 250.9L473.8 251.1L474.3 251.4L474.8 251.6L475.3 251.9L475.8 252.1L476.3 252.4L476.8 252.7L477.3 252.9L477.8 253.2L478.3 253.4L478.8 253.7L479.3 254.0L479.8 254.2L480.3 254.5L480.8 254.7L481.3 255.0L481.8 255.3L482.3 255.5L482.8 255.8L483.3 256.0L483.8 256.3L484.3 256.6L484.8 256.8L485.3 257.1L485.8 257.3L486.3 257.6L486.8 257.9L487.3 258.1L487.8 258.4L488.3 258.6L488.8 258.9L489.3 259.2L489.8 259.4L490.3 259.7L490.8 259.9L491.3 260.2L491.8 260.5L492.3 260.7L492.8 261.0L493.3 261.2L493.8 261.5L494.3 261.8L494.8 262.0L495.3 262.3L495.8 262.5L496.3 262.8L496.8 263.1L497.3 263.3L497.8 263.6L498.3 263.9L498.8 264.1L499.3 264.4L499.8 264.6L500.3 264.9L500.8 265.2L501.3 265.4L501.8 265.7L502.3 265.9L502.8 266.2L503.3 266.5L503.8 266.7L504.3 267.0L504.8 267.2L505.3 267.5L505.8 267.8L506.3 268.0L506.8 268.3L507.3 268.6L507.8 268.8L508.3 269.1L508.8 269.3L509.3 269.6L509.8 269.9L510.3 270.1L510.8 270.4L511.3 270.6L511.8 270.9L512.3 271.2L512.8 271.4L513.3 271.7L513.8 271.9L514.3 272.2L514.8 272.5L515.3 272.7L515.8 273.0L516.3 273.3L516.8 273.5L517.3 273.8L517.8 274.0L518.3 274.3L518.8 274.6L519.3 274.8L519.8 275.1L520.3 275.3L520.8 275.6L521.3 275.9L521.8 276.1L522.3 276.4L522.8 276.6L523.3 276.9L523.8 277.2L524.3 277.4L524.8 277.7L525.3 277.9L525.8 278.2L526.3 278.5L526.8 278.7L527.3 279.0L527.8 279.2L528.3 279.5L528.8 279.8L529.3 280.0L529.8 280.3L530.3 280.6L530.8 280.8L531.3 281.1L531.8 281.3L532.3 281.6L532.8 281.9L533.3 282.1L533.8 282.4L534.3 282.6L534.8 282.9L535.3 283.1L535.8 283.4L536.3 283.7L536.8 283.9L537.3 284.2L537.8 284.4L538.3 284.7L538.8 285.0L539.3 285.2L539.8 285.5L540.3 285.7L540.8 286.0L541.3 286.3L541.8 286.5L542.3 286.8L542.8 287.0L543.3 287.3L543.8 287.6L544.3 287.8L544.8 288.1L545.3 288.3L545.8 288.6L546.3 288.8L546.8 289.1L547.3 289.4L547.8 289.6L548.3 289.9L548.8 290.1L549.3 290.4L549.8 290.7L550.3 290.9L550.8 291.2L551.3 291.4L551.8 291.7L552.3 291.9L552.8 292.2L553.3 292.5L553.8 292.7L554.3 293.0L554.8 293.2L555.3 293.5L555.8 293.7L556.3 294.0L556.8 294.3L557.3 294.5L557.8 294.8L558.3 295.0L558.8 295.3L559.3 295.5L559.8 295.8L560.3 296.0L560.8 296.3L561.3 296.6L561.8 296.8L562.3 297.1L562.8 297.3L563.3 297.6L563.8 297.8L564.3 298.1L564.8 298.3L565.3 298.6L565.8 298.9L566.3 299.1L566.8 299.4L567.3 299.6L567.8 299.9L568.3 300.1L568.8 300.4L569.3 300.6L569.8 300.9L570.3 301.1L570.8 301.4L571.3 301.7L571.8 301.9L572.3 302.2L572.8 302.4L573.3 302.7L573.8 302.9L574.3 303.2L574.8 303.4L575.3 303.7L575.8 303.9L576.3 304.2L576.8 304.4L577.3 304.7L577.8 305.0L578.3 305.2L578.8 305.5L579.3 305.7L579.8 306.0L580.3 306.2L580.8 306.5L581.3 306.7L581.8 307.0L582.3 307.2L582.8 307.5L583.3 307.7L583.8 308.0L584.3 308.2L584.8 308.5L585.3 308.7L585.8 309.0L586.3 309.3L586.8 309.5L587.3 309.8L587.8 310.0L588.3 310.3L588.8 310.5L589.3 310.8L589.8 311.0L590.3 311.3L590.8 311.5L591.3 311.8L591.8 312.0L592.3 312.3L592.8 312.5L593.3 312.8L593.8 313.0L594.3 313.3L594.8 313.5L595.3 313.8L595.8 314.0L596.3 314.3L596.8 314.5L597.3 314.8L597.8 315.0L598.3 315.3L598.8 315.5L599.3 315.8L599.8 316.0L600.3 316.3L600.8 316.5L601.3 316.8L601.8 317.0L602.3 317.3L602.8 317.6L603.3 317.8L603.8 318.1L604.3 318.3L604.8 318.6L605.3 318.8L605.8 319.1L606.3 319.3L606.8 319.6L607.3 319.8L607.8 320.1L608.3 320.3L608.8 320.6L609.3 320.8L609.8 321.1L610.3 321.3L610.8 321.6L611.3 321.8L611.8 322.1L612.3 322.3L612.8 322.6L613.3 322.8L613.8 323.1L614.3 323.3L614.8 323.6L615.3 323.8L615.8 324.1L616.3 324.3L616.8 324.6L617.3 324.8L617.8 325.1L618.3 325.3L618.8 325.6L619.3 325.8L619.8 326.1L620.3 326.3L620.8 326.6L621.3 326.8L621.8 327.1L622.3 327.3L622.8 327.5L623.3 327.8L623.8 328.0L624.3 328.3L624.8 328.5L625.3 328.8L625.8 329.0L626.3 329.3L626.8 329.5L627.3 329.8L627.8 330.0L628.3 330.3L628.8 330.5L629.3 330.8L629.8 331.0L630.3 331.3L630.8 331.5L631.3 331.8L631.8 332.0L632.3 332.3L632.8 332.5L633.3 332.8L633.8 333.0L634.3 333.3L634.8 333.5L635.3 333.8L635.8 334.0L636.3 334.3L636.8 334.5L637.3 334.8L637.8 335.0L638.3 335.3L638.8 335.5L639.3 335.8L639.8 336.0L640.3 336.3L640.8 336.5L641.3 336.7L641.8 337.0L642.3 337.2L642.8 337.5L643.3 337.7L643.8 338.0L644.3 338.2L644.8 338.5L645.3 338.7L645.8 339.0L646.3 339.2L646.8 339.5L647.3 339.7L647.8 340.0L648.3 340.2L648.8 340.5L649.3 340.7L649.8 341.0L650.3 341.2L650.8 341.5L651.3 341.7L651.8 342.0L652.3 342.2L652.8 342.5L653.3 342.7L653.8 342.9L654.3 343.2L654.8 343.4L655.3 343.7L655.8 343.9L656.3 344.2L656.8 344.4L657.3 344.7L657.8 344.9L658.3 345.2L658.8 345.4L659.3 345.7L659.8 345.9L660.3 346.2L660.8 346.4L661.3 346.7L661.8 346.9L662.3 347.2L662.8 347.4L663.3 347.6L663.8 347.9L664.3 348.1L664.8 348.4L665.3 348.6L665.8 348.9L666.3 349.1L666.8 349.4L667.3 349.6L667.8 349.9L668.3 350.1L668.8 350.4L669.3 350.6L669.8 350.9L670.3 351.1L670.8 351.4L671.3 351.6L671.8 351.8L672.3 352.1L672.8 352.3L673.3 352.6L673.8 352.8L674.3 353.1L674.8 353.3L675.3 353.6L675.8 353.8L676.3 354.1L676.8 354.3L677.3 354.6L677.8 354.8L678.3 355.1L678.8 355.3L679.3 355.6L679.8 355.8L680.3 356.0L680.8 356.3L681.3 356.5L681.8 356.8L682.3 357.0L682.8 357.3L683.3 357.5L683.8 357.8L684.3 358.0L684.8 358.3L685.3 358.5L685.8 358.8L686.3 359.0L686.8 359.3L687.3 359.5L687.8 359.8L688.3 360.0L688.8 360.2L689.3 360.5L689.8 360.7L690.3 361.0L690.8 361.2L691.3 361.5L691.8 361.7L692.3 362.0L692.8 362.2L693.3 362.5L693.8 362.7L694.3 363.0L694.8 363.2L695.3 363.5L695.8 363.7L696.3 363.9L696.8 364.2L697.3 364.4L697.8 364.7L698.3 364.9L698.8 365.2L699.3 365.4L699.8 365.7L700.3 365.9L700.8 366.2L701.3 366.4L701.8 366.7L702.3 366.9L702.8 367.2L703.3 367.4L703.8 367.7L704.3 367.9L704.8 368.1L705.3 368.4L705.8 368.6L706.3 368.9L706.8 369.1L707.3 369.4L707.8 369.6L708.3 369.9L708.8 370.1L709.3 370.4L709.8 370.6L710.3 370.9L710.8 371.1L711.3 371.4L711.8 371.6L712.3 371.9L712.8 372.1L713.3 372.3L713.8 372.6L714.3 372.8L714.8 373.1L715.3 373.3L715.8 373.6L716.3 373.8L716.8 374.1L717.3 374.3L717.8 374.6L718.3 374.8L718.8 375.1L719.3 375.3L719.8 375.6L720.3 375.8L720.8 376.1L721.3 376.3L721.8 376.6L722.3 376.8L722.8 377.0L723.3 377.3L723.8 377.5L724.3 377.8L724.8 378.0L725.3 378.3L725.8 378.5L726.3 378.8L726.8 379.0L727.3 379.3L727.8 379.5L728.3 379.8L728.8 380.0L729.3 380.3L729.8 380.5L730.3 380.8L730.8 381.0L731.3 381.3L731.8 381.5L732.3 381.8L732.8 382.0L733.3 382.2L733.8 382.5L734.3 382.7L734.8 383.0L735.3 383.2L735.8 383.5L736.3 383.7L736.8 384.0L737.3 384.2L737.8 384.5L738.3 384.7L738.8 385.0L739.3 385.2L739.8 385.5L740.3 385.7L740.8 386.0L741.3 386.2L741.8 386.5L742.3 386.7L742.8 387.0L743.3 387.2L743.8 387.5L744.3 387.7L744.8 388.0L745.3 388.2L745.8 388.5L746.3 388.7L746.8 388.9L747.3 389.2L747.8 389.4L748.3 389.7L748.8 389.9L749.3 390.2L749.8 390.4L750.3 390.7L750.8 390.9L751.3 391.2L751.8 391.4L752.3 391.7L752.8 391.9L753.3 392.2L753.8 392.4L754.3 392.7L754.8 392.9L755.3 393.2L755.8 393.4L756.3 393.7L756.8 393.9L757.3 394.2L757.8 394.4L758.3 394.7L758.8 394.9L759.3 395.2L759.8 395.4L760.3 395.7L760.8 395.9L761.3 396.2L761.8 396.4L762.3 396.7L762.8 396.9L763.3 397.2L763.8 397.4L764.3 397.7L764.8 397.9L765.3 398.2L765.8 398.4L766.3 398.7L766.8 398.9L767.3 399.2L767.8 399.4L768.3 399.7L768.8 399.9L769.3 400.2L769.8 400.4L770.3 400.7L770.8 400.9L771.3 401.2L771.8 401.4L772.3 401.7L772.8 401.9L773.3 402.2L773.8 402.4L774.3 402.7L774.8 402.9L775.3 403.2L775.8 403.4L776.3 403.7L776.8 403.9L777.3 404.2L777.8 404.4L778.3 404.7L778.8 404.9L779.3 405.2L779.8 405.4L780.3 405.7L780.8 405.9L781.3 406.2L781.8 406.4L782.3 406.7L782.8 406.9L783.3 407.2L783.8 407.4L784.3 407.7L784.8 407.9L785.3 408.2L785.8 408.4L786.3 408.7L786.8 408.9L787.3 409.2L787.8 409.4L788.3 409.7L788.8 409.9L789.3 410.2L789.8 410.5L790.3 410.7L790.8 411.0L791.3 411.2L791.8 411.5L792.3 411.7L792.8 412.0L793.3 412.2L793.8 412.5L794.3 412.7L794.8 413.0L795.3 413.2L795.8 413.5L796.3 413.7L796.8 414.0L797.3 414.2L797.8 414.5L798.3 414.7L798.8 415.0L799.3 415.2L799.8 415.5L800.3 415.8L800.8 416.0L801.3 416.3L801.8 416.5L802.3 416.8L802.8 417.0L803.3 417.3L803.8 417.5L804.3 417.8L804.8 418.0L805.3 418.3L805.8 418.6L806.3 418.8L806.8 419.1L807.3 419.3L807.8 419.6L808.3 419.8L808.8 420.1L809.3 420.4L809.8 420.6L810.3 420.9L810.8 421.1L811.3 421.4L811.8 421.6L812.3 421.9L812.8 422.2L813.3 422.4L813.8 422.7L814.3 422.9L814.8 423.2L815.3 423.5L815.8 423.7L816.3 424.0L816.8 424.2L817.3 424.5L817.8 424.8L818.3 425.0L818.8 425.3L819.3 425.5L819.8 425.8L820.3 426.0L820.8 426.3L821.3 426.6L821.8 426.8L822.3 427.1L822.8 427.3L823.3 427.6L823.8 427.8L824.3 428.1L824.8 428.4L825.3 428.6L825.8 428.9L826.3 429.1L826.8 429.4L827.3 429.6L827.8 429.9L828.3 430.1L828.8 430.4L829.3 430.7L829.8 430.9L830.3 431.2L830.8 431.4L831.3 431.7L831.8 431.9L832.3 432.2L832.8 432.4L833.3 432.7L833.8 432.9L834.3 433.2L834.8 433.4L835.3 433.7L835.8 433.9L836.3 434.2L836.8 434.4L837.3 434.7L837.8 434.9L838.3 435.1L838.8 435.4L839.3 435.6L839.8 435.9L840.3 436.1L840.8 436.4L841.3 436.6L841.8 436.9L842.3 437.1L842.8 437.4L843.3 437.6L843.8 437.8L844.3 438.1L844.8 438.3L845.3 438.6L845.8 438.8L846.3 439.1L846.8 439.3L847.3 439.6L847.8 439.8L848.3 440.0L848.8 440.3L849.3 440.5L849.8 440.8L850.3 441.0L850.8 441.3L851.3 441.5L851.8 441.7L852.3 442.0L852.8 442.2L853.3 442.5L853.8 442.7L854.3 443.0L854.8 443.2L855.3 443.5L855.8 443.7L856.3 443.9L856.8 444.2L857.3 444.4L857.8 444.7L858.3 444.9L858.8 445.2L859.3 445.4L859.8 445.6L860.3 445.9L860.8 446.1L861.3 446.4L861.8 446.6L862.3 446.8L862.8 447.1L863.3 447.3L863.8 447.6L864.3 447.8L864.8 448.1L865.3 448.3L865.8 448.5L866.3 448.8L866.8 449.0L867.3 449.3L867.8 449.5L868.3 449.8L868.8 450.0L869.3 450.2L869.8 450.5L870.3 450.7L870.8 451.0L871.3 451.2L871.8 451.4L872.3 451.7L872.8 451.9L873.3 452.2L873.8 452.4L874.3 452.6L874.8 452.9L875.3 453.1L875.8 453.4L876.3 453.6L876.8 453.8L877.3 454.1L877.8 454.3L878.3 454.6L878.8 454.8L879.3 455.0L879.8 455.3L880.3 455.5L880.8 455.8L881.3 456.0L881.8 456.2L882.3 456.5L882.8 456.7L883.3 457.0L883.8 457.2L884.3 457.4L884.8 457.7L885.3 457.9L885.8 458.2L886.3 458.4L886.8 458.6L887.3 458.9L887.8 459.1L888.3 459.3L888.8 459.6L889.3 459.8L889.8 460.1L890.3 460.3L890.8 460.5L891.3 460.8L891.8 461.0L892.3 461.3L892.8 461.5L893.3 461.7L893.8 462.0L894.3 462.2L894.8 462.4L895.3 462.7L895.8 462.9L896.3 463.2L896.8 463.4L897.3 463.6L897.8 463.9L898.3 464.1L898.8 464.3L899.3 464.6L899.8 464.8L900.3 465.0L900.8 465.3L901.3 465.5L901.8 465.8L902.3 466.0L902.8 466.2L903.3 466.5L903.8 466.7L904.3 466.9L904.8 467.2L905.3 467.4L905.8 467.6L906.3 467.9L906.8 468.1L907.3 468.3L907.8 468.6L908.3 468.8L908.8 469.0L909.3 469.3L909.8 469.5L910.3 469.8L910.8 470.0L911.3 470.2L911.8 470.5L912.3 470.7L912.8 470.9L913.3 471.2L913.8 471.4L914.3 471.6L914.8 471.9L915.3 472.1L915.8 472.3L916.3 472.6L916.8 472.8L917.3 473.0L917.8 473.3L918.3 473.5L918.8 473.7L919.3 474.0L919.8 474.2L920.3 474.4L920.8 474.7L921.3 474.9L921.8 475.1L922.3 475.3L922.8 475.6L923.3 475.8L923.8 476.0L924.3 476.3L924.8 476.5L925.3 476.7L925.8 477.0L926.3 477.2L926.8 477.4L927.3 477.7L927.8 477.9L928.3 478.1L928.8 478.4L929.3 478.6L929.8 478.8L930.3 479.0L930.8 479.3L931.3 479.5L931.8 479.7L932.3 480.0L932.8 480.2L933.3 480.4L933.8 480.7L934.3 480.9L934.8 481.1L935.3 481.3L935.8 481.6L936.3 481.8L936.8 482.0L937.3 482.3L937.8 482.5L938.3 482.7L938.8 482.9L939.3 483.2L939.8 483.4L940.3 483.6L940.8 483.9L941.3 484.1L941.8 484.3L942.3 484.5L942.8 484.8L943.3 485.0L943.8 485.2L944.3 485.4L944.8 485.7L945.3 485.9L945.8 486.1L946.3 486.4L946.8 486.6L947.3 486.8L947.8 487.0L948.3 487.3L948.8 487.5L949.3 487.7L949.8 487.9L950.3 488.2L950.8 488.4L951.3 488.6L951.8 488.8L952.3 489.1L952.8 489.3L953.3 489.5L953.8 489.7L954.3 490.0L954.8 490.2L955.3 490.4L955.8 490.6L956.3 490.9L956.8 491.1L957.3 491.3L957.8 491.5L958.3 491.8L958.8 492.0L959.3 492.2L959.8 492.4L960.3 492.6L960.8 492.9L961.3 493.1L961.8 493.3L962.3 493.5L962.8 493.8L963.3 494.0L963.8 494.2L964.3 494.4L964.8 494.6L965.3 494.9L965.8 495.1L966.3 495.3L966.8 495.5L967.3 495.8L967.8 496.0L968.3 496.2L968.8 496.4L969.3 496.6L969.8 496.9L970.3 497.1L970.8 497.3L971.3 497.5L971.8 497.7L972.3 498.0L972.8 498.2L973.3 498.4L973.8 498.6L974.3 498.8L974.8 499.1L975.3 499.3L975.8 499.5L976.3 499.7L976.8 499.9L977.3 500.2L977.8 500.4L978.3 500.6L978.8 500.8L979.3 501.0L979.8 501.2L980.3 501.5L980.8 501.7L981.3 501.9L981.8 502.1L982.3 502.3L982.8 502.5L983.3 502.8L983.8 503.0L984.3 503.2L984.8 503.4L985.3 503.6L985.8 503.8L986.3 504.1L986.8 504.3L987.3 504.5L987.8 504.7L988.3 504.9L988.8 505.1L989.3 505.4L989.8 505.6L990.3 505.8L990.8 506.0L991.3 506.2L991.8 506.4L992.3 506.6L992.8 506.9L993.3 507.1L993.8 507.3L994.3 507.5L994.8 507.7L995.3 507.9L995.8 508.1L996.3 508.4L996.8 508.6L997.3 508.8L997.8 509.0L998.3 509.2L998.8 509.4L999.3 509.6L999.8 509.8L1000.3 510.1L1000.8 510.3L1001.3 510.5L1001.8 510.7L1002.3 510.9L1002.8 511.1L1003.3 511.3L1003.8 511.5L1004.3 511.7L1004.8 512.0L1005.3 512.2L1005.8 512.4L1006.3 512.6L1006.8 512.8L1007.3 513.0L1007.8 513.2L1008.3 513.4L1008.8 513.6L1009.3 513.8L1009.8 514.1L1010.3 514.3L1010.8 514.5L1011.3 514.7L1011.8 514.9L1012.3 515.1L1012.8 515.3L1013.3 515.5L1013.8 515.7L1014.3 515.9L1014.8 516.2L1015.3 516.4L1015.8 516.6L1016.3 516.8L1016.8 517.0L1017.3 517.2L1017.8 517.4L1018.3 517.6L1018.8 517.8L1019.3 518.0L1019.8 518.2L1020.3 518.4L1020.8 518.6L1021.3 518.9L1021.8 519.1L1022.3 519.3L1022.8 519.5L1023.3 519.7L1023.8 519.9L1024.3 520.1L1024.8 520.3L1025.3 520.5L1025.8 520.7L1026.3 520.9L1026.8 521.1L1027.3 521.3L1027.8 521.5L1028.3 521.7L1028.8 522.0L1029.3 522.2L1029.8 522.4L1030.3 522.6L1030.8 522.8L1031.3 523.0L1031.8 523.2L1032.3 523.4L1032.8 523.6L1033.3 523.8L1033.8 524.0L1034.3 524.2L1034.8 524.4L1035.3 524.6L1035.8 524.8L1036.3 525.0L1036.8 525.2L1037.3 525.4L1037.8 525.6L1038.3 525.8L1038.8 526.0L1039.3 526.2L1039.8 526.4L1040.3 526.6L1040.8 526.8L1041.3 527.0L1041.8 527.2L1042.3 527.4L1042.8 527.6L1043.3 527.8L1043.8 528.0L1044.3 528.2L1044.8 528.4L1045.3 528.6L1045.8 528.8L1046.3 529.0L1046.8 529.2L1047.3 529.4L1047.8 529.6L1048.3 529.8L1048.8 530.0L1049.3 530.2L1049.8 530.4L1050.3 530.6L1050.8 530.8L1051.3 531.0L1051.8 531.2L1052.3 531.4L1052.8 531.6L1053.3 531.8L1053.8 532.0L1054.3 532.2L1054.8 532.4L1055.3 532.6L1055.8 532.8L1056.3 533.0L1056.8 533.2L1057.3 533.4L1057.8 533.6L1058.3 533.8L1058.8 534.0L1059.3 534.2L1059.8 534.4L1060.3 534.6L1060.8 534.8L1061.3 535.0L1061.8 535.2L1062.3 535.4L1062.8 535.6L1063.3 535.8L1063.8 536.0L1064.3 536.1L1064.8 536.3L1065.3 536.5L1065.8 536.7L1066.3 536.9L1066.8 537.1L1067.3 537.3L1067.8 537.5L1068.3 537.7L1068.8 537.9L1069.3 538.1L1069.8 538.3L1070.3 538.5L1070.8 538.7L1071.3 538.8L1071.8 539.0L1072.3 539.2L1072.8 539.4L1073.3 539.6L1073.8 539.8L1074.3 540.0L1074.8 540.2L1075.3 540.4L1075.8 540.6L1076.3 540.8L1076.8 540.9L1077.3 541.1L1077.8 541.3L1078.3 541.5L1078.8 541.7L1079.3 541.9L1079.8 542.1L1080.3 542.3L1080.8 542.4L1081.3 542.6L1081.8 542.8L1082.3 543.0L1082.8 543.2L1083.3 543.4L1083.8 543.6L1084.3 543.8L1084.8 543.9L1085.3 544.1L1085.8 544.3L1086.3 544.5L1086.8 544.7L1087.3 544.9L1087.8 545.1L1088.3 545.2L1088.8 545.4L1089.3 545.6L1089.8 545.8L1090.3 546.0L1090.8 546.2L1091.3 546.3L1091.8 546.5L1092.3 546.7L1092.8 546.9L1093.3 547.1L1093.8 547.3L1094.3 547.4L1094.8 547.6L1095.3 547.8L1095.8 548.0L1096.3 548.2L1096.8 548.3L1097.3 548.5L1097.8 548.7L1098.3 548.9L1098.8 549.1L1099.3 549.2L1099.8 549.4L1100.3 549.6L1100.8 549.8L1101.3 550.0L1101.8 550.1L1102.3 550.3L1102.8 550.5L1103.3 550.7L1103.8 550.9L1104.3 551.0L1104.8 551.2L1105.3 551.4L1105.8 551.6L1106.3 551.7L1106.8 551.9L1107.3 552.1L1107.8 552.3L1108.3 552.5L1108.8 552.6L1109.3 552.8L1109.8 553.0L1110.3 553.2L1110.8 553.3L1111.3 553.5L1111.8 553.7L1112.3 553.9L1112.8 554.0L1113.3 554.2L1113.8 554.4L1114.3 554.6L1114.8 554.7L1115.3 554.9L1115.8 555.1L1116.3 555.3L1116.8 555.4L1117.3 555.6L1117.8 555.8L1118.3 556.0L1118.8 556.1L1119.3 556.3L1119.8 556.5L1120.3 556.7L1120.8 556.8L1121.3 557.0L1121.8 557.2L1122.3 557.3L1122.8 557.5L1123.3 557.7L1123.8 557.9L1124.3 558.0L1124.8 558.2L1125.3 558.4L1125.8 558.6L1126.3 558.7L1126.8 558.9L1127.3 559.1L1127.8 559.2L1128.3 559.4L1128.8 559.6L1129.3 559.7L1129.8 559.9L1130.3 560.1L1130.8 560.3L1131.3 560.4L1131.8 560.6L1132.3 560.8L1132.8 560.9L1133.3 561.1L1133.8 561.3L1134.3 561.4L1134.8 561.6L1135.3 561.8L1135.8 561.9L1136.3 562.1L1136.8 562.3L1137.3 562.4L1137.8 562.6L1138.3 562.8L1138.8 563.0L1139.3 563.1L1139.8 563.3L1140.3 563.5L1140.8 563.6L1141.3 563.8L1141.8 563.9L1142.3 564.1L1142.8 564.3L1143.3 564.4L1143.8 564.6L1144.3 564.8L1144.8 564.9L1145.3 565.1L1145.8 565.3L1146.3 565.4L1146.8 565.6L1147.3 565.8L1147.8 565.9L1148.3 566.1L1148.8 566.3L1149.3 566.4L1149.8 566.6L1150.3 566.7L1150.8 566.9L1151.3 567.1L1151.8 567.2L1152.3 567.4L1152.8 567.6L1153.3 567.7L1153.8 567.9L1154.3 568.0L1154.8 568.2L1155.3 568.4L1155.8 568.5L1156.3 568.7L1156.8 568.9L1157.3 569.0L1157.8 569.2L1158.3 569.3L1158.8 569.5L1159.3 569.7L1159.8 569.8L1160.3 570.0L1160.8 570.1L1161.3 570.3L1161.8 570.5L1162.3 570.6L1162.8 570.8L1163.3 570.9L1163.8 571.1L1164.3 571.3L1164.8 571.4L1165.3 571.6L1165.8 571.7L1166.3 571.9L1166.8 572.0L1167.3 572.2L1167.8 572.4L1168.3 572.5L1168.8 572.7L1169.3 572.8L1169.8 573.0L1170.3 573.1L1170.8 573.3L1171.3 573.4L1171.8 573.6L1172.3 573.8L1172.8 573.9L1173.3 574.1L1173.8 574.2L1174.3 574.4L1174.8 574.5L1175.3 574.7L1175.8 574.8L1176.3 575.0L1176.8 575.2L1177.3 575.3L1177.8 575.5L1178.3 575.6L1178.8 575.8L1179.3 575.9L1179.8 576.1L1180.3 576.2L1180.8 576.4L1181.3 576.5L1181.8 576.7L1182.3 576.8L1182.8 577.0L1183.3 577.1L1183.8 577.3L1184.3 577.4L1184.8 577.6L1185.3 577.7L1185.8 577.9L1186.3 578.0L1186.8 578.2L1187.3 578.3L1187.8 578.5L1188.3 578.6L1188.8 578.8L1189.3 578.9L1189.8 579.1L1190.3 579.2L1190.8 579.4L1191.3 579.5" stroke="#1c0cff" stroke-width="3.3"/>
<path d="M186.5 615.4L187.3 650.5L188.1 647.0L188.9 601.2L189.7 607.0L190.5 601.1L191.3 630.7L192.1 614.2L192.9 636.1L193.7 566.4L194.5 658.8L195.3 614.1L196.1 635.4L196.9 613.5L197.7 607.1L198.5 630.3L199.3 640.5L200.1 612.6L200.9 614.2L201.7 637.5L202.5 594.9L203.3 577.3L204.1 630.3L204.9 601.0L205.7 566.4L206.5 597.4L207.3 607.2L208.1 587.2L208.9 578.9L209.7 622.1L210.5 646.5L211.3 614.9L212.1 600.7L212.9 632.9L213.7 642.6L214.5 613.9L215.3 638.2L216.1 652.7L216.9 617.2L217.7 600.1L218.5 633.6L219.3 631.0L220.1 655.9L220.9 587.2L221.7 605.5L222.5 600.6L223.3 574.7L224.1 629.3L224.9 641.4L225.7 604.5L226.5 667.4L227.3 651.1L228.1 645.8L228.9 639.4L229.7 656.3L230.5 588.3L231.3 646.8L232.1 646.8L232.9 575.7L233.7 639.8L234.5 622.0L235.3 653.6L236.1 616.7L236.9 629.8L237.7 641.1L238.5 604.0L239.3 649.4L240.1 628.0L240.9 646.6L241.7 615.5L242.5 665.4L243.3 650.7L244.1 626.5L244.9 651.8L245.7 671.3L246.5 687.9L247.3 583.5L248.1 659.8L248.9 646.3L249.7 627.9L250.5 607.2L251.3 649.3L252.1 591.6L252.9 611.5L253.7 610.0L254.5 556.4L255.3 562.7L256.1 541.2L256.9 551.0L257.7 557.5L258.5 556.3L259.3 514.5L260.1 521.3L260.9 527.8L261.7 530.3L262.5 516.2L263.3 502.7L264.1 506.5L264.9 498.9L265.7 491.0L266.5 478.2L267.3 474.1L268.1 461.3L268.9 447.5L269.7 436.7L270.5 422.5L271.3 417.1L272.1 414.5L272.9 398.3L273.7 382.8L274.5 378.5L275.3 356.7L276.1 338.9L276.9 310.9L277.7 285.7L278.5 262.4L279.3 247.1L280.1 231.6L280.9 213.7L281.7 202.8L282.5 194.4L283.3 183.9L284.1 176.4L284.9 168.9L285.7 162.2L286.5 155.6L287.3 148.0L288.1 143.6L288.9 138.5L289.7 135.6L290.5 130.7L291.3 128.9L292.1 128.9L292.9 126.3L293.7 125.7L294.5 124.4L295.3 124.0L296.1 122.9L296.9 122.9L297.7 122.2L298.5 122.4L299.3 123.4L300.1 124.7L300.9 125.4L301.7 127.1L302.5 128.7L303.3 130.4L304.1 131.6L304.9 132.0L305.7 135.3L306.5 137.5L307.3 140.1L308.1 141.5L308.9 142.4L309.7 144.3L310.5 148.6L311.3 149.6L312.1 152.7L312.9 155.0L313.7 154.4L314.5 157.5L315.3 159.5L316.1 161.6L316.9 163.4L317.7 165.0L318.5 166.9L319.3 167.1L320.1 170.3L320.9 171.7L321.7 174.5L322.5 175.9L323.3 179.0L324.1 181.3L324.9 182.8L325.7 184.9L326.5 186.7L327.3 188.1L328.1 190.4L328.9 191.9L329.7 194.8L330.5 196.2L331.3 198.7L332.1 198.2L332.9 202.6L333.7 202.5L334.5 204.3L335.3 206.8L336.1 208.1L336.9 211.0L337.7 211.8L338.5 213.0L339.3 215.1L340.1 219.8L340.9 219.9L341.7 220.1L342.5 223.5L343.3 223.2L344.1 229.5L344.9 226.7L345.7 231.3L346.5 233.1L347.3 232.0L348.1 236.2L348.9 239.0L349.7 239.9L350.5 241.3L351.3 244.0L352.1 244.5L352.9 246.5L353.7 247.4L354.5 250.3L355.3 249.5L356.1 253.9L356.9 253.5L357.7 254.2L358.5 258.3L359.3 262.2L360.1 262.6L360.9 261.8L361.7 265.5L362.5 265.1L363.3 267.3L364.1 269.3L364.9 266.6L365.7 272.7L366.5 272.0L367.3 274.2L368.1 274.3L368.9 275.7L369.7 278.2L370.5 283.1L371.3 286.1L372.1 284.4L372.9 288.0L373.7 286.7L374.5 284.9L375.3 290.3L376.1 292.3L376.9 291.9L377.7 294.7L378.5 296.6L379.3 295.0L380.1 295.0L380.9 298.9L381.7 300.3L382.5 301.2L383.3 305.4L384.1 308.3L384.9 304.9L385.7 308.6L386.5 310.4L387.3 311.1L388.1 313.1L388.9 311.0L389.7 314.8L390.5 319.0L391.3 317.4L392.1 315.2L392.9 319.2L393.7 322.0L394.5 321.0L395.3 319.9L396.1 326.1L396.9 320.5L397.7 325.9L398.5 325.7L399.3 323.9L400.1 331.0L400.9 329.9L401.7 327.2L402.5 332.7L403.3 331.2L404.1 328.4L404.9 332.6L405.7 336.1L406.5 338.1L407.3 337.9L408.1 338.6L408.9 340.7L409.7 339.9L410.5 344.7L411.3 342.8L412.1 344.2L412.9 345.8L413.7 342.3L414.5 344.2L415.3 351.4L416.1 348.9L416.9 348.1L417.7 350.7L418.5 349.3L419.3 352.3L420.1 350.4L420.9 354.0L421.7 349.4L422.5 358.8L423.3 354.2L424.1 351.8L424.9 356.7L425.7 357.0L426.5 359.4L427.3 356.2L428.1 361.7L428.9 369.5L429.7 358.1L430.5 363.8L431.3 362.6L432.1 364.9L432.9 359.4L433.7 362.2L434.5 368.0L435.3 367.1L436.1 373.2L436.9 366.4L437.7 369.9L438.5 378.8L439.3 368.3L440.1 368.5L440.9 372.0L441.7 372.6L442.5 376.2L443.3 374.5L444.1 372.2L444.9 376.1L445.7 384.9L446.5 380.9L447.3 368.2L448.1 377.4L448.9 375.6L449.7 381.3L450.5 379.2L451.3 387.1L452.1 384.3L452.9 384.7L453.7 382.9L454.5 382.7L455.3 384.7L456.1 388.7L456.9 386.6L457.7 384.1L458.5 390.5L459.3 387.3L460.1 386.9L460.9 385.0L461.7 386.4L462.5 386.7L463.3 379.8L464.1 394.0L464.9 393.0L465.7 390.7L466.5 396.0L467.3 394.4L468.1 394.7L468.9 384.7L469.7 393.7L470.5 397.1L471.3 401.8L472.1 403.3L472.9 402.4L473.7 393.0L474.5 389.6L475.3 400.9L476.1 399.3L476.9 403.6L477.7 399.9L478.5 401.8L479.3 395.6L480.1 403.8L480.9 400.8L481.7 404.5L482.5 405.5L483.3 403.8L484.1 406.1L484.9 405.3L485.7 408.9L486.5 408.4L487.3 404.7L488.1 405.0L488.9 415.1L489.7 408.1L490.5 413.1L491.3 411.1L492.1 407.7L492.9 407.4L493.7 411.6L494.5 412.6L495.3 414.7L496.1 407.2L496.9 410.6L497.7 413.2L498.5 420.9L499.3 404.5L500.1 417.0L500.9 413.3L501.7 417.9L502.5 414.4L503.3 418.6L504.1 424.4L504.9 419.6L505.7 420.4L506.5 420.6L507.3 416.2L508.1 422.4L508.9 419.5L509.7 417.3L510.5 421.2L511.3 420.8L512.1 425.7L512.9 422.6L513.7 420.9L514.5 430.3L515.3 428.7L516.1 430.4L516.9 427.9L517.7 425.1L518.5 424.2L519.3 425.3L520.1 431.4L520.9 428.0L521.7 421.1L522.5 428.3L523.3 422.3L524.1 430.2L524.9 424.2L525.7 424.4L526.5 431.4L527.3 431.0L528.1 423.9L528.9 435.9L529.7 443.2L530.5 426.2L531.3 442.6L532.1 431.0L532.9 432.4L533.7 434.4L534.5 428.7L535.3 442.6L536.1 439.1L536.9 433.5L537.7 436.3L538.5 430.6L539.3 436.9L540.1 443.8L540.9 431.0L541.7 437.8L542.5 441.2L543.3 446.3L544.1 448.3L544.9 439.5L545.7 438.6L546.5 445.1L547.3 441.4L548.1 442.1L548.9 449.7L549.7 453.3L550.5 446.4L551.3 444.5L552.1 448.9L552.9 436.5L553.7 446.7L554.5 441.6L555.3 460.3L556.1 451.9L556.9 449.3L557.7 447.9L558.5 436.0L559.3 453.7L560.1 459.0L560.9 446.8L561.7 454.9L562.5 455.5L563.3 443.6L564.1 457.6L564.9 460.3L565.7 454.6L566.5 453.5L567.3 458.6L568.1 446.2L568.9 455.6L569.7 461.4L570.5 449.1L571.3 462.0L572.1 454.6L572.9 445.6L573.7 457.2L574.5 452.7L575.3 460.5L576.1 452.4L576.9 465.6L577.7 455.8L578.5 462.5L579.3 457.4L580.1 459.4L580.9 468.6L581.7 463.4L582.5 460.3L583.3 455.7L584.1 470.3L584.9 468.2L585.7 462.4L586.5 466.2L587.3 459.0L588.1 459.5L588.9 461.0L589.7 468.5L590.5 468.5L591.3 462.7L592.1 472.0L592.9 472.7L593.7 469.4L594.5 475.1L595.3 467.4L596.1 468.9L596.9 472.9L597.7 470.2L598.5 475.7L599.3 463.4L600.1 480.4L600.9 467.1L601.7 471.3L602.5 464.2L603.3 476.9L604.1 481.6L604.9 480.7L605.7 479.6L606.5 464.9L607.3 470.2L608.1 472.6L608.9 470.0L609.7 483.5L610.5 477.9L611.3 477.0L612.1 480.7L612.9 471.8L613.7 472.5L614.5 473.0L615.3 482.4L616.1 481.8L616.9 483.7L617.7 487.4L618.5 471.8L619.3 477.4L620.1 482.5L620.9 473.0L621.7 478.8L622.5 489.5L623.3 490.5L624.1 490.8L624.9 484.2L625.7 482.9L626.5 492.1L627.3 482.6L628.1 487.8L628.9 495.0L629.7 483.8L630.5 482.5L631.3 487.1L632.1 491.7L632.9 491.3L633.7 489.4L634.5 492.6L635.3 478.0L636.1 483.5L636.9 491.1L637.7 483.8L638.5 481.3L639.3 482.6L640.1 485.0L640.9 490.7L641.7 485.1L642.5 494.5L643.3 505.4L644.1 492.5L644.9 503.2L645.7 496.5L646.5 486.7L647.3 493.3L648.1 488.4L648.9 501.7L649.7 488.0L650.5 506.6L651.3 501.5L652.1 482.7L652.9 503.9L653.7 510.1L654.5 493.0L655.3 506.7L656.1 486.2L656.9 502.1L657.7 488.0L658.5 504.6L659.3 487.8L660.1 481.7L660.9 505.3L661.7 520.2L662.5 498.5L663.3 509.9L664.1 504.7L664.9 501.8L665.7 509.5L666.5 518.0L667.3 495.9L668.1 510.4L668.9 509.1L669.7 495.5L670.5 520.0L671.3 523.1L672.1 500.4L672.9 522.4L673.7 509.3L674.5 508.0L675.3 521.9L676.1 512.0L676.9 513.2L677.7 523.3L678.5 521.9L679.3 519.1L680.1 500.7L680.9 499.7L681.7 522.4L682.5 505.8L683.3 515.1L684.1 505.3L684.9 513.2L685.7 504.4L686.5 529.3L687.3 507.4L688.1 515.4L688.9 515.2L689.7 527.5L690.5 505.5L691.3 517.8L692.1 516.7L692.9 523.5L693.7 523.4L694.5 515.7L695.3 522.2L696.1 517.3L696.9 525.1L697.7 520.5L698.5 516.0L699.3 522.0L700.1 525.8L700.9 543.2L701.7 519.0L702.5 526.6L703.3 537.4L704.1 505.9L704.9 509.3L705.7 514.7L706.5 524.8L707.3 548.5L708.1 530.3L708.9 538.2L709.7 525.5L710.5 505.2L711.3 506.9L712.1 538.2L712.9 530.8L713.7 517.4L714.5 540.4L715.3 515.9L716.1 541.4L716.9 544.8L717.7 524.3L718.5 521.4L719.3 540.4L720.1 522.2L720.9 541.4L721.7 522.0L722.5 541.7L723.3 535.2L724.1 530.5L724.9 526.4L725.7 537.8L726.5 517.3L727.3 533.5L728.1 532.7L728.9 543.7L729.7 525.0L730.5 554.8L731.3 535.1L732.1 527.2L732.9 552.8L733.7 556.0L734.5 537.8L735.3 531.1L736.1 540.6L736.9 533.8L737.7 538.0L738.5 557.5L739.3 546.0L740.1 543.8L740.9 546.3L741.7 542.5L742.5 552.2L743.3 553.0L744.1 540.4L744.9 545.7L745.7 570.3L746.5 549.8L747.3 543.8L748.1 567.8L748.9 546.6L749.7 535.2L750.5 554.4L751.3 538.0L752.1 542.6L752.9 551.8L753.7 547.3L754.5 540.8L755.3 543.5L756.1 543.4L756.9 562.9L757.7 542.7L758.5 544.6L759.3 573.7L760.1 545.5L760.9 568.5L761.7 567.0L762.5 551.1L763.3 537.3L764.1 558.6L764.9 561.4L765.7 565.1L766.5 555.4L767.3 568.6L768.1 571.1L768.9 543.6L769.7 572.3L770.5 558.4L771.3 550.2L772.1 553.4L772.9 579.1L773.7 569.2L774.5 537.4L775.3 559.4L776.1 557.2L776.9 557.1L777.7 553.5L778.5 542.7L779.3 570.4L780.1 549.4L780.9 556.5L781.7 554.1L782.5 552.9L783.3 570.8L784.1 566.9L784.9 554.5L785.7 551.5L786.5 557.6L787.3 575.3L788.1 565.4L788.9 567.1L789.7 560.6L790.5 561.7L791.3 567.9L792.1 542.8L792.9 585.7L793.7 556.4L794.5 559.4L795.3 583.4L796.1 569.9L796.9 567.9L797.7 560.4L798.5 548.4L799.3 570.7L800.1 583.7L800.9 557.6L801.7 586.5L802.5 555.2L803.3 560.5L804.1 576.6L804.9 570.4L805.7 579.6L806.5 561.5L807.3 558.0L808.1 547.4L808.9 556.3L809.7 558.2L810.5 553.8L811.3 576.7L812.1 564.3L812.9 547.2L813.7 606.1L814.5 562.8L815.3 557.5L816.1 590.7L816.9 590.0L817.7 559.6L818.5 555.5L819.3 562.1L820.1 590.7L820.9 571.8L821.7 565.3L822.5 576.1L823.3 592.9L824.1 558.2L824.9 572.0L825.7 558.7L826.5 607.2L827.3 602.8L828.1 591.2L828.9 576.7L829.7 587.8L830.5 550.2L831.3 583.1L832.1 561.1L832.9 561.5L833.7 570.3L834.5 575.4L835.3 588.5L836.1 590.6L836.9 584.7L837.7 568.1L838.5 591.0L839.3 580.1L840.1 598.7L840.9 569.4L841.7 544.4L842.5 576.1L843.3 613.6L844.1 590.0L844.9 580.8L845.7 596.4L846.5 591.3L847.3 591.0L848.1 577.2L848.9 585.9L849.7 588.0L850.5 576.1L851.3 569.4L852.1 587.9L852.9 600.2L853.7 595.8L854.5 593.9L855.3 594.3L856.1 625.1L856.9 591.2L857.7 603.0L858.5 616.8L859.3 589.0L860.1 592.4L860.9 604.2L861.7 614.1L862.5 593.9L863.3 594.9L864.1 591.1L864.9 571.9L865.7 607.1L866.5 586.7L867.3 564.8L868.1 588.8L868.9 565.0L869.7 576.2L870.5 592.1L871.3 578.0L872.1 608.8L872.9 570.1L873.7 596.9L874.5 601.8L875.3 616.0L876.1 608.0L876.9 597.6L877.7 595.5L878.5 593.6L879.3 612.5L880.1 584.7L880.9 603.4L881.7 594.0L882.5 599.6L883.3 591.9L884.1 630.1L884.9 586.1L885.7 600.8L886.5 601.5L887.3 607.0L888.1 604.8L888.9 604.6L889.7 613.9L890.5 574.1L891.3 598.8L892.1 578.9L892.9 602.9L893.7 580.2L894.5 584.0L895.3 598.9L896.1 623.0L896.9 609.9L897.7 605.5L898.5 624.0L899.3 585.6L900.1 566.9L900.9 594.7L901.7 597.3L902.5 622.7L903.3 638.1L904.1 580.5L904.9 644.4L905.7 629.4L906.5 617.5L907.3 609.9L908.1 644.9L908.9 605.5L909.7 596.4L910.5 607.0L911.3 581.6L912.1 613.2L912.9 603.5L913.7 611.3L914.5 612.1L915.3 587.9L916.1 629.1L916.9 589.1L917.7 622.2L918.5 579.5L919.3 613.8L920.1 593.3L920.9 608.6L921.7 596.7L922.5 570.1L923.3 589.0L924.1 610.0L924.9 620.1L925.7 583.3L926.5 571.9L927.3 594.3L928.1 606.2L928.9 599.0L929.7 596.0L930.5 625.9L931.3 628.3L932.1 624.5L932.9 594.5L933.7 613.0L934.5 608.4L935.3 586.3L936.1 628.3L936.9 614.2L937.7 604.0L938.5 638.9L939.3 627.2L940.1 629.2L940.9 635.7L941.7 627.1L942.5 590.8L943.3 607.2L944.1 633.1L944.9 600.6L945.7 615.7L946.5 622.6L947.3 642.3L948.1 639.9L948.9 632.7L949.7 612.6L950.5 633.5L951.3 626.5L952.1 613.7L952.9 642.6L953.7 626.5L954.5 603.1L955.3 641.6L956.1 612.9L956.9 629.3L957.7 589.1L958.5 618.0L959.3 600.5L960.1 600.1L960.9 582.3L961.7 660.5L962.5 616.5L963.3 624.2L964.1 641.3L964.9 617.6L965.7 630.2L966.5 593.9L967.3 624.4L968.1 612.7L968.9 630.8L969.7 624.7L970.5 594.1L971.3 585.1L972.1 601.7L972.9 636.5L973.7 630.5L974.5 630.3L975.3 582.4L976.1 569.2L976.9 610.4L977.7 616.4L978.5 611.2L979.3 630.5L980.1 620.1L980.9 599.9L981.7 606.2L982.5 627.0L983.3 625.7L984.1 622.9L984.9 670.5L985.7 619.4L986.5 627.4L987.3 604.8L988.1 617.9L988.9 636.1L989.7 637.2L990.5 622.5L991.3 634.0L992.1 627.2L992.9 587.6L993.7 570.8L994.5 674.2L995.3 643.8L996.1 625.7L996.9 591.0L997.7 600.7L998.5 655.4L999.3 571.3L1000.1 620.9L1000.9 645.9L1001.7 630.9L1002.5 643.8L1003.3 625.5L1004.1 678.5L1004.9 606.9L1005.7 600.0L1006.5 634.6L1007.3 659.1L1008.1 627.9L1008.9 651.4L1009.7 618.2L1010.5 604.4L1011.3 659.4L1012.1 663.1L1012.9 662.6L1013.7 620.8L1014.5 605.6L1015.3 605.4L1016.1 625.8L1016.9 643.2L1017.7 641.7L1018.5 600.2L1019.3 635.3L1020.1 631.6L1020.9 633.3L1021.7 631.0L1022.5 627.3L1023.3 644.6L1024.1 634.7L1024.9 637.0L1025.7 617.2L1026.5 640.9L1027.3 629.8L1028.1 586.6L1028.9 643.3L1029.7 627.1L1030.5 653.3L1031.3 629.6L1032.1 631.2L1032.9 638.0L1033.7 633.3L1034.5 623.8L1035.3 594.3L1036.1 674.5L1036.9 599.2L1037.7 626.6L1038.5 648.7L1039.3 642.8L1040.1 647.1L1040.9 651.7L1041.7 662.9L1042.5 641.5L1043.3 695.2L1044.1 612.6L1044.9 640.4L1045.7 627.4L1046.5 623.4L1047.3 642.1L1048.1 668.5L1048.9 620.0L1049.7 620.1L1050.5 652.4L1051.3 648.5L1052.1 680.5L1052.9 659.7L1053.7 641.8L1054.5 629.3L1055.3 641.7L1056.1 633.0L1056.9 606.1L1057.7 637.4L1058.5 633.3L1059.3 632.1L1060.1 627.8L1060.9 676.2L1061.7 653.6L1062.5 659.3L1063.3 624.1L1064.1 614.7L1064.9 631.7L1065.7 643.9L1066.5 630.5L1067.3 634.2L1068.1 660.7L1068.9 645.6L1069.7 616.2L1070.5 629.1L1071.3 623.9L1072.1 643.3L1072.9 612.3L1073.7 635.2L1074.5 655.5L1075.3 640.2L1076.1 618.4L1076.9 625.4L1077.7 642.8L1078.5 651.2L1079.3 659.6L1080.1 636.8L1080.9 609.5L1081.7 673.7L1082.5 647.4L1083.3 650.1L1084.1 647.8L1084.9 616.4L1085.7 633.4L1086.5 647.0L1087.3 665.3L1088.1 642.6L1088.9 577.6L1089.7 635.6L1090.5 649.8L1091.3 672.1L1092.1 658.4L1092.9 700.6L1093.7 675.5L1094.5 673.8L1095.3 664.3L1096.1 609.2L1096.9 662.3L1097.7 656.5L1098.5 629.8L1099.3 656.4L1100.1 652.5L1100.9 631.5L1101.7 639.7L1102.5 636.5L1103.3 648.4L1104.1 632.8L1104.9 656.1L1105.7 597.1L1106.5 636.4L1107.3 602.8L1108.1 631.8L1108.9 655.9L1109.7 644.1L1110.5 641.0L1111.3 645.4L1112.1 681.7L1112.9 617.2L1113.7 665.4L1114.5 607.5L1115.3 632.8L1116.1 648.2L1116.9 623.6L1117.7 649.3L1118.5 662.1L1119.3 615.5L1120.1 642.7L1120.9 635.5L1121.7 597.5L1122.5 640.3L1123.3 625.5L1124.1 677.7L1124.9 623.7L1125.7 686.7L1126.5 632.2L1127.3 692.8L1128.1 658.6L1128.9 656.6L1129.7 665.3L1130.5 667.8L1131.3 680.2L1132.1 688.4L1132.9 637.3L1133.7 615.2L1134.5 580.2L1135.3 636.6L1136.1 664.9L1136.9 655.6L1137.7 649.2L1138.5 637.7L1139.3 630.6L1140.1 639.5L1140.9 656.3L1141.7 603.0L1142.5 664.8L1143.3 610.6L1144.1 643.0L1144.9 631.2L1145.7 637.9L1146.5 621.1L1147.3 618.4L1148.1 641.4L1148.9 620.2L1149.7 708.6L1150.5 637.0L1151.3 631.0L1152.1 633.7L1152.9 620.7L1153.7 586.1L1154.5 641.2L1155.3 655.5L1156.1 610.1L1156.9 648.0L1157.7 617.5L1158.5 647.0L1159.3 657.0L1160.1 660.3L1160.9 659.1L1161.7 630.5L1162.5 670.4L1163.3 637.0L1164.1 657.2L1164.9 666.2L1165.7 640.8L1166.5 616.1L1167.3 664.1L1168.1 620.4L1168.9 626.2L1169.7 620.9L1170.5 670.2L1171.3 644.7L1172.1 591.9L1172.9 667.6L1173.7 701.6L1174.5 694.8L1175.3 634.7L1176.1 651.2L1176.9 662.2L1177.7 672.0L1178.5 650.2L1179.3 621.5L1180.1 668.7L1180.9 665.2L1181.7 615.6L1182.5 640.2L1183.3 656.5L1184.1 649.6L1184.9 663.1L1185.7 670.1L1186.5 663.7L1187.3 646.9L1188.1 615.4L1188.9 665.7L1189.7 685.9L1190.5 700.7L1191.3 649.2" stroke="#ff1f1a" stroke-width="1.3"/>
<path d="M187.9 598.9L188.4 599.2L188.9 599.5L189.4 599.8L189.9 600.1L190.4 600.4L190.9 600.7L191.4 601.0L191.9 601.3L192.4 601.6L192.9 601.9L193.4 602.2L193.9 602.5L194.4 602.8L194.9 603.1L195.4 603.4L195.9 603.7L196.4 604.1L196.9 604.4L197.4 604.7L197.9 605.0L198.4 605.3L198.9 605.6L199.4 605.9L199.9 606.2L200.4 606.5L200.9 606.8L201.4 607.1L201.9 607.4L202.4 607.7L202.9 608.0L203.4 608.3L203.9 608.6L204.4 608.9L204.9 609.2L205.4 609.5L205.9 609.8L206.4 610.1L206.9 610.4L207.4 610.7L207.9 611.0L208.4 611.3L208.9 611.6L209.4 611.9L209.9 612.2L210.4 612.5L210.9 612.8L211.4 613.1L211.9 613.4L212.4 613.7L212.9 614.0L213.4 614.3L213.9 614.6L214.4 614.9L214.9 615.2L215.4 615.5L215.9 615.8L216.4 616.0L216.9 616.3L217.4 616.6L217.9 616.9L218.4 617.2L218.9 617.6L219.4 617.9L219.9 618.2L220.4 618.5L220.9 618.9L221.4 619.2L221.9 619.6L222.4 619.9L222.9 620.3L223.4 620.7L223.9 621.0L224.4 621.4L224.9 621.8L225.4 622.2L225.9 622.6L226.4 623.0L226.9 623.4L227.4 623.7L227.9 624.1L228.4 624.5L228.9 624.9L229.4 625.3L229.9 625.7L230.4 626.1L230.9 626.5L231.4 626.9L231.9 627.2L232.4 627.6L232.9 628.0L233.4 628.3L233.9 628.7L234.4 629.1L234.9 629.4L235.4 629.7L235.9 630.1L236.4 630.4L236.9 630.7L237.4 631.0L237.9 631.3L238.4 631.6L238.9 631.9L239.4 632.2L239.9 632.4L240.4 632.7L240.9 632.9L241.4 633.1L241.9 633.4L242.4 633.6L242.9 633.7L243.4 633.9L243.9 634.1L244.4 634.2L244.9 634.3L245.4 634.4L245.9 634.5L246.4 634.6L246.9 634.6L247.4 634.7L247.9 634.7L248.4 634.6L248.9 633.9L249.4 632.6L249.9 630.9L250.4 628.7L250.9 626.2L251.4 623.3L251.9 618.0L252.4 610.3L252.9 602.1L253.4 594.8L253.9 587.4L254.4 579.8L254.9 572.2L255.4 565.0L255.9 558.5L256.4 553.0L256.9 548.4L257.4 544.3L257.9 540.6L258.4 537.1L258.9 533.8L259.4 530.7L259.9 527.7L260.4 524.7L260.9 521.6L261.4 518.6L261.9 515.8L262.4 513.2L262.9 510.7L263.4 508.1L263.9 505.4L264.4 502.4L264.9 499.0L265.4 495.2L265.9 490.4L266.4 484.4L266.9 477.6L267.4 470.2L267.9 462.6L268.4 455.1L268.9 448.0L269.4 441.5L269.9 435.5L270.4 429.6L270.9 423.9L271.4 418.0L271.9 412.0L272.4 405.6L272.9 399.1L273.4 392.3L273.9 384.8L274.4 376.1L274.9 365.2L275.4 352.5L275.9 338.9L276.4 325.3L276.9 310.8L277.4 295.6L277.9 280.8L278.4 267.4L278.9 254.8L279.4 242.8L279.9 231.9L280.4 222.7L280.9 214.7L281.4 207.6L281.9 201.0L282.4 194.9L282.9 189.2L283.4 183.7L283.9 178.6L284.4 173.8L284.9 169.2L285.4 164.7L285.9 160.1L286.4 155.5L286.9 151.2L287.4 147.2L287.9 144.0L288.4 141.3L288.9 138.9L289.4 136.6L289.9 134.6L290.4 132.7L290.9 131.1L291.4 129.8L291.9 128.7L292.4 127.7L292.9 126.7L293.4 125.8L293.9 124.9L294.4 124.1L294.9 123.5L295.4 122.9L295.9 122.5L296.4 122.2L296.9 122.1L297.4 122.2L297.9 122.5L298.4 122.9L298.9 123.4L299.4 124.0L299.9 124.7L300.4 125.5L300.9 126.3L301.4 127.1L301.9 127.9L302.4 128.6L302.9 129.5L303.4 130.4L303.9 131.4L304.4 132.5L304.9 133.6L305.4 134.7L305.9 135.9L306.4 137.0L306.9 138.2L307.4 139.4L307.9 140.6L308.4 141.7L308.9 142.9L309.4 144.2L309.9 145.4L310.4 146.7L310.9 147.9L311.4 149.2L311.9 150.5L312.4 151.8L312.9 153.1L313.4 154.4L313.9 155.7L314.4 156.9L314.9 158.1L315.4 159.4L315.9 160.6L316.4 161.8L316.9 162.9L317.4 164.1L317.9 165.3L318.4 166.5L318.9 167.6L319.4 168.8L319.9 170.0L320.4 171.2L320.9 172.4L321.4 173.6L321.9 174.8L322.4 176.1L322.9 177.3L323.4 178.6L323.9 179.9L324.4 181.2L324.9 182.5L325.4 183.7L325.9 185.0L326.4 186.3L326.9 187.6L327.4 188.8L327.9 190.0L328.4 191.3L328.9 192.5L329.4 193.6L329.9 194.8L330.4 195.9L330.9 197.1L331.4 198.2L331.9 199.3L332.4 200.5L332.9 201.6L333.4 202.7L333.9 203.8L334.4 205.0L334.9 206.1L335.4 207.2L335.9 208.4L336.4 209.5L336.9 210.7L337.4 211.8L337.9 213.0L338.4 214.1L338.9 215.3L339.4 216.5L339.9 217.6L340.4 218.7L340.9 219.9L341.4 221.0L341.9 222.2L342.4 223.3L342.9 224.4L343.4 225.5L343.9 226.6L344.4 227.7L344.9 228.8L345.4 229.9L345.9 231.0L346.4 232.1L346.9 233.2L347.4 234.3L347.9 235.4L348.4 236.4L348.9 237.5L349.4 238.6L349.9 239.6L350.4 240.7L350.9 241.8L351.4 242.8L351.9 243.9L352.4 244.9L352.9 246.0L353.4 247.0L353.9 248.1L354.4 249.1L354.9 250.2L355.4 251.2L355.9 252.3L356.4 253.3L356.9 254.4L357.4 255.4L357.9 256.4L358.4 257.5L358.9 258.5L359.4 259.6L359.9 260.6L360.4 261.6L360.9 262.7L361.4 263.7L361.9 264.7L362.4 265.7L362.9 266.7L363.4 267.7L363.9 268.7L364.4 269.7L364.9 270.7L365.4 271.7L365.9 272.7L366.4 273.7L366.9 274.7L367.4 275.6L367.9 276.6L368.4 277.6L368.9 278.5L369.4 279.5L369.9 280.4L370.4 281.3L370.9 282.2L371.4 283.1L371.9 284.0L372.4 284.9L372.9 285.8L373.4 286.7L373.9 287.6L374.4 288.5L374.9 289.3L375.4 290.2L375.9 291.1L376.4 291.9L376.9 292.8L377.4 293.6L377.9 294.5L378.4 295.3L378.9 296.1L379.4 297.0L379.9 297.8L380.4 298.6L380.9 299.4L381.4 300.2L381.9 301.0L382.4 301.8L382.9 302.6L383.4 303.4L383.9 304.2L384.4 305.0L384.9 305.8L385.4 306.6L385.9 307.3L386.4 308.1L386.9 308.9L387.4 309.6L387.9 310.4L388.4 311.2L388.9 311.9L389.4 312.7L389.9 313.4L390.4 314.2L390.9 314.9L391.4 315.6L391.9 316.4L392.4 317.1L392.9 317.8L393.4 318.5L393.9 319.3L394.4 320.0L394.9 320.7L395.4 321.4L395.9 322.1L396.4 322.8L396.9 323.5L397.4 324.2L397.9 324.9L398.4 325.6L398.9 326.3L399.4 327.0L399.9 327.7L400.4 328.4L400.9 329.0L401.4 329.7L401.9 330.4L402.4 331.1L402.9 331.7L403.4 332.4L403.9 333.1L404.4 333.7L404.9 334.4L405.4 335.0L405.9 335.7L406.4 336.3L406.9 337.0L407.4 337.6L407.9 338.2L408.4 338.9L408.9 339.5L409.4 340.1L409.9 340.7L410.4 341.3L410.9 341.9L411.4 342.5L411.9 343.1L412.4 343.7L412.9 344.3L413.4 344.9L413.9 345.5L414.4 346.1L414.9 346.6L415.4 347.2L415.9 347.8L416.4 348.3L416.9 348.9L417.4 349.4L417.9 350.0L418.4 350.5L418.9 351.1L419.4 351.6L419.9 352.2L420.4 352.7L420.9 353.2L421.4 353.7L421.9 354.3L422.4 354.8L422.9 355.3L423.4 355.8L423.9 356.3L424.4 356.8L424.9 357.3L425.4 357.8L425.9 358.3L426.4 358.8L426.9 359.3L427.4 359.8L427.9 360.3L428.4 360.8L428.9 361.3L429.4 361.8L429.9 362.2L430.4 362.7L430.9 363.2L431.4 363.7L431.9 364.1L432.4 364.6L432.9 365.0L433.4 365.5L433.9 366.0L434.4 366.4L434.9 366.9L435.4 367.3L435.9 367.8L436.4 368.2L436.9 368.7L437.4 369.1L437.9 369.5L438.4 370.0L438.9 370.4L439.4 370.8L439.9 371.3L440.4 371.7L440.9 372.1L441.4 372.5L441.9 372.9L442.4 373.4L442.9 373.8L443.4 374.2L443.9 374.6L444.4 375.0L444.9 375.4L445.4 375.8L445.9 376.2L446.4 376.6L446.9 377.0L447.4 377.4L447.9 377.8L448.4 378.2L448.9 378.6L449.4 378.9L449.9 379.3L450.4 379.7L450.9 380.1L451.4 380.5L451.9 380.9L452.4 381.3L452.9 381.6L453.4 382.0L453.9 382.4L454.4 382.8L454.9 383.2L455.4 383.6L455.9 384.0L456.4 384.3L456.9 384.7L457.4 385.1L457.9 385.5L458.4 385.9L458.9 386.3L459.4 386.7L459.9 387.0L460.4 387.4L460.9 387.8L461.4 388.2L461.9 388.6L462.4 389.0L462.9 389.4L463.4 389.7L463.9 390.1L464.4 390.5L464.9 390.9L465.4 391.3L465.9 391.7L466.4 392.0L466.9 392.4L467.4 392.8L467.9 393.2L468.4 393.6L468.9 393.9L469.4 394.3L469.9 394.7L470.4 395.1L470.9 395.4L471.4 395.8L471.9 396.2L472.4 396.5L472.9 396.9L473.4 397.3L473.9 397.6L474.4 398.0L474.9 398.4L475.4 398.7L475.9 399.1L476.4 399.5L476.9 399.8L477.4 400.2L477.9 400.5L478.4 400.9L478.9 401.2L479.4 401.6L479.9 401.9L480.4 402.3L480.9 402.6L481.4 403.0L481.9 403.3L482.4 403.6L482.9 404.0L483.4 404.3L483.9 404.7L484.4 405.0L484.9 405.3L485.4 405.7L485.9 406.0L486.4 406.3L486.9 406.7L487.4 407.0L487.9 407.3L488.4 407.6L488.9 408.0L489.4 408.3L489.9 408.6L490.4 408.9L490.9 409.3L491.4 409.6L491.9 409.9L492.4 410.2L492.9 410.5L493.4 410.9L493.9 411.2L494.4 411.5L494.9 411.8L495.4 412.1L495.9 412.5L496.4 412.8L496.9 413.1L497.4 413.4L497.9 413.7L498.4 414.0L498.9 414.3L499.4 414.7L499.9 415.0L500.4 415.3L500.9 415.6L501.4 415.9L501.9 416.2L502.4 416.5L502.9 416.8L503.4 417.1L503.9 417.4L504.4 417.7L504.9 418.0L505.4 418.3L505.9 418.6L506.4 418.9L506.9 419.2L507.4 419.5L507.9 419.8L508.4 420.1L508.9 420.4L509.4 420.7L509.9 421.0L510.4 421.3L510.9 421.6L511.4 421.9L511.9 422.2L512.4 422.5L512.9 422.8L513.4 423.1L513.9 423.4L514.4 423.7L514.9 424.0L515.4 424.3L515.9 424.5L516.4 424.8L516.9 425.1L517.4 425.4L517.9 425.7L518.4 426.0L518.9 426.3L519.4 426.6L519.9 426.9L520.4 427.2L520.9 427.5L521.4 427.8L521.9 428.1L522.4 428.4L522.9 428.7L523.4 429.0L523.9 429.3L524.4 429.6L524.9 429.9L525.4 430.2L525.9 430.5L526.4 430.8L526.9 431.1L527.4 431.4L527.9 431.7L528.4 432.0L528.9 432.3L529.4 432.6L529.9 432.9L530.4 433.3L530.9 433.6L531.4 433.9L531.9 434.2L532.4 434.5L532.9 434.8L533.4 435.1L533.9 435.4L534.4 435.7L534.9 436.0L535.4 436.3L535.9 436.6L536.4 436.9L536.9 437.2L537.4 437.5L537.9 437.8L538.4 438.1L538.9 438.4L539.4 438.7L539.9 439.0L540.4 439.3L540.9 439.6L541.4 439.9L541.9 440.1L542.4 440.4L542.9 440.7L543.4 441.0L543.9 441.3L544.4 441.6L544.9 441.9L545.4 442.2L545.9 442.4L546.4 442.7L546.9 443.0L547.4 443.3L547.9 443.6L548.4 443.9L548.9 444.1L549.4 444.4L549.9 444.7L550.4 445.0L550.9 445.2L551.4 445.5L551.9 445.8L552.4 446.1L552.9 446.3L553.4 446.6L553.9 446.9L554.4 447.2L554.9 447.4L555.4 447.7L555.9 448.0L556.4 448.3L556.9 448.5L557.4 448.8L557.9 449.1L558.4 449.4L558.9 449.6L559.4 449.9L559.9 450.2L560.4 450.5L560.9 450.7L561.4 451.0L561.9 451.3L562.4 451.5L562.9 451.8L563.4 452.1L563.9 452.4L564.4 452.6L564.9 452.9L565.4 453.2L565.9 453.5L566.4 453.7L566.9 454.0L567.4 454.3L567.9 454.6L568.4 454.9L568.9 455.1L569.4 455.4L569.9 455.7L570.4 456.0L570.9 456.2L571.4 456.5L571.9 456.8L572.4 457.1L572.9 457.4L573.4 457.6L573.9 457.9L574.4 458.2L574.9 458.5L575.4 458.7L575.9 459.0L576.4 459.3L576.9 459.6L577.4 459.8L577.9 460.1L578.4 460.4L578.9 460.7L579.4 460.9L579.9 461.2L580.4 461.5L580.9 461.7L581.4 462.0L581.9 462.3L582.4 462.5L582.9 462.8L583.4 463.1L583.9 463.3L584.4 463.6L584.9 463.9L585.4 464.1L585.9 464.4L586.4 464.7L586.9 464.9L587.4 465.2L587.9 465.4L588.4 465.7L588.9 466.0L589.4 466.2L589.9 466.5L590.4 466.7L590.9 467.0L591.4 467.2L591.9 467.5L592.4 467.7L592.9 468.0L593.4 468.2L593.9 468.5L594.4 468.7L594.9 469.0L595.4 469.2L595.9 469.5L596.4 469.7L596.9 470.0L597.4 470.2L597.9 470.5L598.4 470.7L598.9 471.0L599.4 471.2L599.9 471.5L600.4 471.7L600.9 472.0L601.4 472.2L601.9 472.5L602.4 472.7L602.9 473.0L603.4 473.2L603.9 473.5L604.4 473.7L604.9 474.0L605.4 474.2L605.9 474.4L606.4 474.7L606.9 474.9L607.4 475.2L607.9 475.5L608.4 475.7L608.9 476.0L609.4 476.2L609.9 476.5L610.4 476.7L610.9 477.0L611.4 477.2L611.9 477.5L612.4 477.7L612.9 478.0L613.4 478.2L613.9 478.5L614.4 478.7L614.9 479.0L615.4 479.2L615.9 479.4L616.4 479.7L616.9 479.9L617.4 480.2L617.9 480.4L618.4 480.7L618.9 480.9L619.4 481.2L619.9 481.4L620.4 481.7L620.9 481.9L621.4 482.2L621.9 482.4L622.4 482.7L622.9 482.9L623.4 483.2L623.9 483.4L624.4 483.7L624.9 483.9L625.4 484.2L625.9 484.4L626.4 484.7L626.9 484.9L627.4 485.2L627.9 485.4L628.4 485.7L628.9 485.9L629.4 486.2L629.9 486.4L630.4 486.7L630.9 486.9L631.4 487.2L631.9 487.4L632.4 487.7L632.9 487.9L633.4 488.2L633.9 488.4L634.4 488.7L634.9 488.9L635.4 489.2L635.9 489.4L636.4 489.7L636.9 489.9L637.4 490.2L637.9 490.4L638.4 490.7L638.9 490.9L639.4 491.2L639.9 491.5L640.4 491.7L640.9 492.0L641.4 492.2L641.9 492.5L642.4 492.7L642.9 493.0L643.4 493.2L643.9 493.5L644.4 493.7L644.9 494.0L645.4 494.2L645.9 494.5L646.4 494.8L646.9 495.0L647.4 495.3L647.9 495.5L648.4 495.8L648.9 496.0L649.4 496.3L649.9 496.5L650.4 496.8L650.9 497.1L651.4 497.3L651.9 497.6L652.4 497.8L652.9 498.1L653.4 498.3L653.9 498.6L654.4 498.9L654.9 499.1L655.4 499.4L655.9 499.6L656.4 499.9L656.9 500.1L657.4 500.4L657.9 500.7L658.4 500.9L658.9 501.2L659.4 501.4L659.9 501.7L660.4 502.0L660.9 502.2L661.4 502.5L661.9 502.7L662.4 503.0L662.9 503.3L663.4 503.5L663.9 503.8L664.4 504.0L664.9 504.3L665.4 504.6L665.9 504.8L666.4 505.1L666.9 505.3L667.4 505.6L667.9 505.9L668.4 506.1L668.9 506.4L669.4 506.6L669.9 506.9L670.4 507.2L670.9 507.4L671.4 507.7L671.9 507.9L672.4 508.2L672.9 508.5L673.4 508.7L673.9 509.0L674.4 509.3L674.9 509.5L675.4 509.8L675.9 510.0L676.4 510.3L676.9 510.6L677.4 510.8L677.9 511.1L678.4 511.3L678.9 511.6L679.4 511.9L679.9 512.1L680.4 512.4L680.9 512.6L681.4 512.9L681.9 513.2L682.4 513.4L682.9 513.7L683.4 513.9L683.9 514.2L684.4 514.5L684.9 514.7L685.4 515.0L685.9 515.3L686.4 515.5L686.9 515.8L687.4 516.0L687.9 516.3L688.4 516.6L688.9 516.8L689.4 517.1L689.9 517.3L690.4 517.6L690.9 517.9L691.4 518.1L691.9 518.4L692.4 518.6L692.9 518.9L693.4 519.1L693.9 519.4L694.4 519.7L694.9 519.9L695.4 520.2L695.9 520.4L696.4 520.7L696.9 521.0L697.4 521.2L697.9 521.5L698.4 521.7L698.9 522.0L699.4 522.2L699.9 522.5L700.4 522.8L700.9 523.0L701.4 523.3L701.9 523.5L702.4 523.8L702.9 524.0L703.4 524.3L703.9 524.6L704.4 524.8L704.9 525.1L705.4 525.3L705.9 525.6L706.4 525.8L706.9 526.1L707.4 526.3L707.9 526.6L708.4 526.8L708.9 527.1L709.4 527.4L709.9 527.6L710.4 527.9L710.9 528.1L711.4 528.4L711.9 528.6L712.4 528.9L712.9 529.1L713.4 529.4L713.9 529.6L714.4 529.9L714.9 530.1L715.4 530.4L715.9 530.6L716.4 530.9L716.9 531.1L717.4 531.4L717.9 531.6L718.4 531.9L718.9 532.1L719.4 532.4L719.9 532.6L720.4 532.9L720.9 533.1L721.4 533.4L721.9 533.6L722.4 533.9L722.9 534.1L723.4 534.3L723.9 534.6L724.4 534.8L724.9 535.1L725.4 535.3L725.9 535.6L726.4 535.8L726.9 536.1L727.4 536.3L727.9 536.5L728.4 536.8L728.9 537.0L729.4 537.3L729.9 537.5L730.4 537.8L730.9 538.0L731.4 538.2L731.9 538.5L732.4 538.7L732.9 539.0L733.4 539.2L733.9 539.4L734.4 539.7L734.9 539.9L735.4 540.1L735.9 540.4L736.4 540.6L736.9 540.8L737.4 541.1L737.9 541.3L738.4 541.6L738.9 541.8L739.4 542.0L739.9 542.3L740.4 542.5L740.9 542.7L741.4 543.0L741.9 543.2L742.4 543.4L742.9 543.7L743.4 543.9L743.9 544.1L744.4 544.4L744.9 544.6L745.4 544.8L745.9 545.1L746.4 545.3L746.9 545.5L747.4 545.8L747.9 546.0L748.4 546.2L748.9 546.5L749.4 546.7L749.9 546.9L750.4 547.2L750.9 547.4L751.4 547.6L751.9 547.9L752.4 548.1L752.9 548.3L753.4 548.6L753.9 548.8L754.4 549.0L754.9 549.3L755.4 549.5L755.9 549.7L756.4 550.0L756.9 550.2L757.4 550.4L757.9 550.6L758.4 550.9L758.9 551.1L759.4 551.3L759.9 551.6L760.4 551.8L760.9 552.0L761.4 552.3L761.9 552.5L762.4 552.7L762.9 552.9L763.4 553.2L763.9 553.4L764.4 553.6L764.9 553.8L765.4 554.1L765.9 554.3L766.4 554.5L766.9 554.7L767.4 555.0L767.9 555.2L768.4 555.4L768.9 555.6L769.4 555.9L769.9 556.1L770.4 556.3L770.9 556.5L771.4 556.8L771.9 557.0L772.4 557.2L772.9 557.4L773.4 557.6L773.9 557.9L774.4 558.1L774.9 558.3L775.4 558.5L775.9 558.7L776.4 559.0L776.9 559.2L777.4 559.4L777.9 559.6L778.4 559.8L778.9 560.0L779.4 560.3L779.9 560.5L780.4 560.7L780.9 560.9L781.4 561.1L781.9 561.3L782.4 561.5L782.9 561.7L783.4 562.0L783.9 562.2L784.4 562.4L784.9 562.6L785.4 562.8L785.9 563.0L786.4 563.2L786.9 563.4L787.4 563.6L787.9 563.8L788.4 564.0L788.9 564.2L789.4 564.4L789.9 564.6L790.4 564.8L790.9 565.0L791.4 565.2L791.9 565.4L792.4 565.6L792.9 565.8L793.4 566.0L793.9 566.2L794.4 566.4L794.9 566.6L795.4 566.8L795.9 567.0L796.4 567.2L796.9 567.4L797.4 567.6L797.9 567.8L798.4 568.0L798.9 568.2L799.4 568.4L799.9 568.6L800.4 568.8L800.9 568.9L801.4 569.1L801.9 569.3L802.4 569.5L802.9 569.7L803.4 569.9L803.9 570.0L804.4 570.2L804.9 570.4L805.4 570.6L805.9 570.8L806.4 571.0L806.9 571.1L807.4 571.3L807.9 571.5L808.4 571.7L808.9 571.8L809.4 572.0L809.9 572.2L810.4 572.4L810.9 572.5L811.4 572.7L811.9 572.9L812.4 573.1L812.9 573.2L813.4 573.4L813.9 573.6L814.4 573.8L814.9 573.9L815.4 574.1L815.9 574.3L816.4 574.4L816.9 574.6L817.4 574.8L817.9 574.9L818.4 575.1L818.9 575.3L819.4 575.4L819.9 575.6L820.4 575.8L820.9 575.9L821.4 576.1L821.9 576.3L822.4 576.4L822.9 576.6L823.4 576.7L823.9 576.9L824.4 577.1L824.9 577.2L825.4 577.4L825.9 577.6L826.4 577.7L826.9 577.9L827.4 578.0L827.9 578.2L828.4 578.4L828.9 578.5L829.4 578.7L829.9 578.8L830.4 579.0L830.9 579.2L831.4 579.3L831.9 579.5L832.4 579.6L832.9 579.8L833.4 579.9L833.9 580.1L834.4 580.3L834.9 580.4L835.4 580.6L835.9 580.7L836.4 580.9L836.9 581.1L837.4 581.2L837.9 581.4L838.4 581.5L838.9 581.7L839.4 581.8L839.9 582.0L840.4 582.2L840.9 582.3L841.4 582.5L841.9 582.6L842.4 582.8L842.9 582.9L843.4 583.1L843.9 583.3L844.4 583.4L844.9 583.6L845.4 583.7L845.9 583.9L846.4 584.1L846.9 584.2L847.4 584.4L847.9 584.5L848.4 584.7L848.9 584.9L849.4 585.0L849.9 585.2L850.4 585.3L850.9 585.5L851.4 585.6L851.9 585.8L852.4 586.0L852.9 586.1L853.4 586.3L853.9 586.4L854.4 586.6L854.9 586.8L855.4 586.9L855.9 587.1L856.4 587.2L856.9 587.4L857.4 587.6L857.9 587.7L858.4 587.9L858.9 588.0L859.4 588.2L859.9 588.4L860.4 588.5L860.9 588.7L861.4 588.9L861.9 589.0L862.4 589.2L862.9 589.3L863.4 589.5L863.9 589.7L864.4 589.8L864.9 590.0L865.4 590.1L865.9 590.3L866.4 590.5L866.9 590.6L867.4 590.8L867.9 590.9L868.4 591.1L868.9 591.3L869.4 591.4L869.9 591.6L870.4 591.7L870.9 591.9L871.4 592.1L871.9 592.2L872.4 592.4L872.9 592.5L873.4 592.7L873.9 592.9L874.4 593.0L874.9 593.2L875.4 593.3L875.9 593.5L876.4 593.7L876.9 593.8L877.4 594.0L877.9 594.1L878.4 594.3L878.9 594.5L879.4 594.6L879.9 594.8L880.4 594.9L880.9 595.1L881.4 595.3L881.9 595.4L882.4 595.6L882.9 595.7L883.4 595.9L883.9 596.1L884.4 596.2L884.9 596.4L885.4 596.5L885.9 596.7L886.4 596.9L886.9 597.0L887.4 597.2L887.9 597.3L888.4 597.5L888.9 597.7L889.4 597.8L889.9 598.0L890.4 598.1L890.9 598.3L891.4 598.5L891.9 598.6L892.4 598.8L892.9 598.9L893.4 599.1L893.9 599.2L894.4 599.4L894.9 599.6L895.4 599.7L895.9 599.9L896.4 600.0L896.9 600.2L897.4 600.4L897.9 600.5L898.4 600.7L898.9 600.8L899.4 601.0L899.9 601.1L900.4 601.3L900.9 601.5L901.4 601.6L901.9 601.8L902.4 601.9L902.9 602.1L903.4 602.2L903.9 602.4L904.4 602.5L904.9 602.7L905.4 602.9L905.9 603.0L906.4 603.2L906.9 603.3L907.4 603.5L907.9 603.6L908.4 603.8L908.9 603.9L909.4 604.1L909.9 604.2L910.4 604.4L910.9 604.6L911.4 604.7L911.9 604.9L912.4 605.0L912.9 605.2L913.4 605.3L913.9 605.5L914.4 605.6L914.9 605.8L915.4 605.9L915.9 606.1L916.4 606.2L916.9 606.4L917.4 606.5L917.9 606.7L918.4 606.8L918.9 607.0L919.4 607.1L919.9 607.3L920.4 607.4L920.9 607.6L921.4 607.7L921.9 607.9L922.4 608.0L922.9 608.2L923.4 608.3L923.9 608.5L924.4 608.6L924.9 608.8L925.4 608.9L925.9 609.1L926.4 609.2L926.9 609.4L927.4 609.5L927.9 609.7L928.4 609.8L928.9 610.0L929.4 610.1L929.9 610.3L930.4 610.4L930.9 610.6L931.4 610.7L931.9 610.8L932.4 611.0L932.9 611.1L933.4 611.3L933.9 611.4L934.4 611.6L934.9 611.7L935.4 611.9L935.9 612.0L936.4 612.1L936.9 612.3L937.4 612.4L937.9 612.6L938.4 612.7L938.9 612.9L939.4 613.0L939.9 613.1L940.4 613.3L940.9 613.4L941.4 613.6L941.9 613.7L942.4 613.8L942.9 614.0L943.4 614.1L943.9 614.3L944.4 614.4L944.9 614.5L945.4 614.7L945.9 614.8L946.4 614.9L946.9 615.1L947.4 615.2L947.9 615.4L948.4 615.5L948.9 615.6L949.4 615.8L949.9 615.9L950.4 616.0L950.9 616.2L951.4 616.3L951.9 616.4L952.4 616.6L952.9 616.7L953.4 616.8L953.9 617.0L954.4 617.1L954.9 617.2L955.4 617.4L955.9 617.5L956.4 617.6L956.9 617.8L957.4 617.9L957.9 618.0L958.4 618.2L958.9 618.3L959.4 618.4L959.9 618.5L960.4 618.7L960.9 618.8L961.4 618.9L961.9 619.1L962.4 619.2L962.9 619.3L963.4 619.4L963.9 619.6L964.4 619.7L964.9 619.8L965.4 619.9L965.9 620.1L966.4 620.2L966.9 620.3L967.4 620.4L967.9 620.6L968.4 620.7L968.9 620.8L969.4 620.9L969.9 621.0L970.4 621.2L970.9 621.3L971.4 621.4L971.9 621.5L972.4 621.6L972.9 621.8L973.4 621.9L973.9 622.0L974.4 622.1L974.9 622.2L975.4 622.4L975.9 622.5L976.4 622.6L976.9 622.7L977.4 622.8L977.9 622.9L978.4 623.1L978.9 623.2L979.4 623.3L979.9 623.4L980.4 623.5L980.9 623.6L981.4 623.7L981.9 623.8L982.4 624.0L982.9 624.1L983.4 624.2L983.9 624.3L984.4 624.4L984.9 624.5L985.4 624.6L985.9 624.7L986.4 624.8L986.9 624.9L987.4 625.0L987.9 625.2L988.4 625.3L988.9 625.4L989.4 625.5L989.9 625.6L990.4 625.7L990.9 625.8L991.4 625.9L991.9 626.0L992.4 626.1L992.9 626.2L993.4 626.3L993.9 626.4L994.4 626.5L994.9 626.6L995.4 626.7L995.9 626.8L996.4 626.9L996.9 627.0L997.4 627.1L997.9 627.2L998.4 627.3L998.9 627.4L999.4 627.5L999.9 627.6L1000.4 627.7L1000.9 627.8L1001.4 627.9L1001.9 628.0L1002.4 628.0L1002.9 628.1L1003.4 628.2L1003.9 628.3L1004.4 628.4L1004.9 628.5L1005.4 628.6L1005.9 628.7L1006.4 628.8L1006.9 628.9L1007.4 629.0L1007.9 629.1L1008.4 629.2L1008.9 629.3L1009.4 629.3L1009.9 629.4L1010.4 629.5L1010.9 629.6L1011.4 629.7L1011.9 629.8L1012.4 629.9L1012.9 630.0L1013.4 630.1L1013.9 630.2L1014.4 630.2L1014.9 630.3L1015.4 630.4L1015.9 630.5L1016.4 630.6L1016.9 630.7L1017.4 630.8L1017.9 630.9L1018.4 631.0L1018.9 631.0L1019.4 631.1L1019.9 631.2L1020.4 631.3L1020.9 631.4L1021.4 631.5L1021.9 631.6L1022.4 631.7L1022.9 631.7L1023.4 631.8L1023.9 631.9L1024.4 632.0L1024.9 632.1L1025.4 632.2L1025.9 632.2L1026.4 632.3L1026.9 632.4L1027.4 632.5L1027.9 632.6L1028.4 632.7L1028.9 632.7L1029.4 632.8L1029.9 632.9L1030.4 633.0L1030.9 633.1L1031.4 633.2L1031.9 633.2L1032.4 633.3L1032.9 633.4L1033.4 633.5L1033.9 633.6L1034.4 633.6L1034.9 633.7L1035.4 633.8L1035.9 633.9L1036.4 634.0L1036.9 634.1L1037.4 634.1L1037.9 634.2L1038.4 634.3L1038.9 634.4L1039.4 634.4L1039.9 634.5L1040.4 634.6L1040.9 634.7L1041.4 634.8L1041.9 634.8L1042.4 634.9L1042.9 635.0L1043.4 635.1L1043.9 635.1L1044.4 635.2L1044.9 635.3L1045.4 635.4L1045.9 635.5L1046.4 635.5L1046.9 635.6L1047.4 635.7L1047.9 635.8L1048.4 635.8L1048.9 635.9L1049.4 636.0L1049.9 636.1L1050.4 636.1L1050.9 636.2L1051.4 636.3L1051.9 636.3L1052.4 636.4L1052.9 636.5L1053.4 636.6L1053.9 636.6L1054.4 636.7L1054.9 636.8L1055.4 636.9L1055.9 636.9L1056.4 637.0L1056.9 637.1L1057.4 637.1L1057.9 637.2L1058.4 637.3L1058.9 637.4L1059.4 637.4L1059.9 637.5L1060.4 637.6L1060.9 637.6L1061.4 637.7L1061.9 637.8L1062.4 637.8L1062.9 637.9L1063.4 638.0L1063.9 638.1L1064.4 638.1L1064.9 638.2L1065.4 638.3L1065.9 638.3L1066.4 638.4L1066.9 638.5L1067.4 638.5L1067.9 638.6L1068.4 638.7L1068.9 638.7L1069.4 638.8L1069.9 638.9L1070.4 638.9L1070.9 639.0L1071.4 639.1L1071.9 639.1L1072.4 639.2L1072.9 639.3L1073.4 639.3L1073.9 639.4L1074.4 639.5L1074.9 639.5L1075.4 639.6L1075.9 639.6L1076.4 639.7L1076.9 639.8L1077.4 639.8L1077.9 639.9L1078.4 640.0L1078.9 640.0L1079.4 640.1L1079.9 640.2L1080.4 640.2L1080.9 640.3L1081.4 640.3L1081.9 640.4L1082.4 640.5L1082.9 640.5L1083.4 640.6L1083.9 640.6L1084.4 640.7L1084.9 640.8L1085.4 640.8L1085.9 640.9L1086.4 640.9L1086.9 641.0L1087.4 641.1L1087.9 641.1L1088.4 641.2L1088.9 641.2L1089.4 641.3L1089.9 641.4L1090.4 641.4L1090.9 641.5L1091.4 641.5L1091.9 641.6L1092.4 641.6L1092.9 641.7L1093.4 641.8L1093.9 641.8L1094.4 641.9L1094.9 641.9L1095.4 642.0L1095.9 642.0L1096.4 642.1L1096.9 642.2L1097.4 642.2L1097.9 642.3L1098.4 642.3L1098.9 642.4L1099.4 642.4L1099.9 642.5L1100.4 642.5L1100.9 642.6L1101.4 642.7L1101.9 642.7L1102.4 642.8L1102.9 642.8L1103.4 642.9L1103.9 642.9L1104.4 643.0L1104.9 643.0L1105.4 643.1L1105.9 643.1L1106.4 643.2L1106.9 643.2L1107.4 643.3L1107.9 643.4L1108.4 643.4L1108.9 643.5L1109.4 643.5L1109.9 643.6L1110.4 643.6L1110.9 643.7L1111.4 643.7L1111.9 643.8L1112.4 643.8L1112.9 643.9L1113.4 643.9L1113.9 644.0L1114.4 644.0L1114.9 644.1L1115.4 644.1L1115.9 644.2L1116.4 644.2L1116.9 644.3L1117.4 644.3L1117.9 644.4L1118.4 644.4L1118.9 644.5L1119.4 644.5L1119.9 644.6L1120.4 644.6L1120.9 644.7L1121.4 644.7L1121.9 644.8L1122.4 644.8L1122.9 644.9L1123.4 644.9L1123.9 645.0L1124.4 645.0L1124.9 645.1L1125.4 645.1L1125.9 645.2L1126.4 645.2L1126.9 645.3L1127.4 645.3L1127.9 645.4L1128.4 645.4L1128.9 645.5L1129.4 645.5L1129.9 645.6L1130.4 645.6L1130.9 645.7L1131.4 645.7L1131.9 645.8L1132.4 645.8L1132.9 645.9L1133.4 645.9L1133.9 646.0L1134.4 646.0L1134.9 646.1L1135.4 646.1L1135.9 646.2L1136.4 646.2L1136.9 646.3L1137.4 646.3L1137.9 646.3L1138.4 646.4L1138.9 646.4L1139.4 646.5L1139.9 646.5L1140.4 646.6L1140.9 646.6L1141.4 646.7L1141.9 646.7L1142.4 646.8L1142.9 646.8L1143.4 646.8L1143.9 646.9L1144.4 646.9L1144.9 647.0L1145.4 647.0L1145.9 647.1L1146.4 647.1L1146.9 647.2L1147.4 647.2L1147.9 647.2L1148.4 647.3L1148.9 647.3L1149.4 647.4L1149.9 647.4L1150.4 647.5L1150.9 647.5L1151.4 647.5L1151.9 647.6L1152.4 647.6L1152.9 647.7L1153.4 647.7L1153.9 647.8L1154.4 647.8L1154.9 647.8L1155.4 647.9L1155.9 647.9L1156.4 648.0L1156.9 648.0L1157.4 648.0L1157.9 648.1L1158.4 648.1L1158.9 648.2L1159.4 648.2L1159.9 648.2L1160.4 648.3L1160.9 648.3L1161.4 648.4L1161.9 648.4L1162.4 648.4L1162.9 648.5L1163.4 648.5L1163.9 648.6L1164.4 648.6L1164.9 648.6L1165.4 648.7L1165.9 648.7L1166.4 648.7L1166.9 648.8L1167.4 648.8L1167.9 648.9L1168.4 648.9L1168.9 648.9L1169.4 649.0L1169.9 649.0L1170.4 649.0L1170.9 649.1L1171.4 649.1L1171.9 649.1L1172.4 649.2L1172.9 649.2L1173.4 649.3L1173.9 649.3L1174.4 649.3L1174.9 649.4L1175.4 649.4L1175.9 649.4L1176.4 649.5L1176.9 649.5L1177.4 649.5L1177.9 649.6L1178.4 649.6L1178.9 649.6L1179.4 649.7L1179.9 649.7L1180.4 649.7L1180.9 649.8L1181.4 649.8L1181.9 649.8L1182.4 649.9L1182.9 649.9L1183.4 649.9L1183.9 649.9L1184.4 650.0L1184.9 650.0L1185.4 650.0L1185.9 650.1L1186.4 650.1L1186.9 650.1L1187.4 650.2L1187.9 650.2L1188.4 650.2L1188.9 650.3L1189.4 650.3L1189.9 650.3L1190.4 650.3L1190.9 650.4L1191.4 650.4" stroke="#ff1f1a" stroke-width="3.3"/>
</g>
<rect x="161.0" y="109.5" width="1030.5" height="606.0" fill="none" stroke="#5a5a5a" stroke-width="2.2"/>
<text x="161.0" y="760.5" font-size="31.5" text-anchor="middle" font-family="Liberation Sans, sans-serif" fill="#1a1a1a">0</text>
<text x="395.1" y="760.5" font-size="31.5" text-anchor="middle" font-family="Liberation Sans, sans-serif" fill="#1a1a1a">5</text>
<text x="629.2" y="760.5" font-size="31.5" text-anchor="middle" font-family="Liberation Sans, sans-serif" fill="#1a1a1a">10</text>
<text x="863.3" y="760.5" font-size="31.5" text-anchor="middle" font-family="Liberation Sans, sans-serif" fill="#1a1a1a">15</text>
<text x="1097.4" y="760.5" font-size="31.5" text-anchor="middle" font-family="Liberation Sans, sans-serif" fill="#1a1a1a">20</text>
<text x="91" y="230.5" font-size="31.5" font-family="Liberation Sans, sans-serif" fill="#1a1a1a">10</text>
<text x="126.5" y="213.0" font-size="21" font-family="Liberation Sans, sans-serif" fill="#1a1a1a">4</text>
<text x="91" y="428.3" font-size="31.5" font-family="Liberation Sans, sans-serif" fill="#1a1a1a">10</text>
<text x="126.5" y="410.8" font-size="21" font-family="Liberation Sans, sans-serif" fill="#1a1a1a">3</text>
<text x="91" y="626.1" font-size="31.5" font-family="Liberation Sans, sans-serif" fill="#1a1a1a">10</text>
<text x="126.5" y="608.6" font-size="21" font-family="Liberation Sans, sans-serif" fill="#1a1a1a">2</text>
<text x="673.5" y="826" font-size="49.2" text-anchor="middle" font-family="Liberation Sans, sans-serif" fill="#111">Time (ns)</text>
<text transform="translate(47,425.5) rotate(-90)" font-size="49.5" text-anchor="middle" font-family="Liberation Sans, sans-serif" fill="#111">Fluorescence (counts)</text>
<path d="M1036.5 186.5H1083" stroke="#ff1f1a" stroke-width="5"/>
<path d="M1031.5 256.5H1078" stroke="#1c0cff" stroke-width="5"/>
<text x="1099.5" y="201" font-size="47" font-family="Liberation Serif, serif" fill="#111">A<tspan dx="5">’</tspan></text>
<text x="1101.5" y="270.5" font-size="47" font-family="Liberation Serif, serif" fill="#111">A</text>
</g>
<text x="3" y="39.5" font-size="66" font-weight="bold" font-family="Liberation Sans, sans-serif" fill="#000">a</text>
<text x="3" y="937.5" font-size="67" font-weight="bold" textLength="47" lengthAdjust="spacingAndGlyphs" font-family="Liberation Sans, sans-serif" fill="#000">b</text>
<text x="3" y="1814.5" font-size="72" font-weight="bold" font-family="Liberation Sans, sans-serif" fill="#000">c</text>
<g id="pb">
<defs>
<filter id="nz0" x="0" y="0" width="1" height="1" color-interpolation-filters="sRGB"><feTurbulence type="fractalNoise" baseFrequency="0.26" numOctaves="2" seed="3" result="n"/><feColorMatrix in="n" type="matrix" values="1.6 0 0 0 -0.300  1.6 0 0 0 -0.300  1.6 0 0 0 -0.300  0 0 0 0 1"/><feComponentTransfer><feFuncR type="table" tableValues="0.125 0.141 0.196 0.337"/><feFuncG type="table" tableValues="0.016 0.024 0.039 0.094"/><feFuncB type="table" tableValues="0.608 0.635 0.682 0.776"/></feComponentTransfer><feGaussianBlur stdDeviation="0.85"/></filter>
<filter id="nz1" x="0" y="0" width="1" height="1" color-interpolation-filters="sRGB"><feTurbulence type="fractalNoise" baseFrequency="0.26" numOctaves="2" seed="11" result="n"/><feColorMatrix in="n" type="matrix" values="1.8 0 0 0 -0.400  1.8 0 0 0 -0.400  1.8 0 0 0 -0.400  0 0 0 0 1"/><feComponentTransfer><feFuncR type="table" tableValues="0.541 0.753 0.847 0.933"/><feFuncG type="table" tableValues="0.165 0.255 0.329 0.471"/><feFuncB type="table" tableValues="0.808 0.600 0.471 0.345"/></feComponentTransfer><feGaussianBlur stdDeviation="0.85"/></filter>
<filter id="nz2" x="0" y="0" width="1" height="1" color-interpolation-filters="sRGB"><feTurbulence type="fractalNoise" baseFrequency="0.26" numOctaves="2" seed="19" result="n"/><feColorMatrix in="n" type="matrix" values="2.4 0 0 0 -0.700  2.4 0 0 0 -0.700  2.4 0 0 0 -0.700  0 0 0 0 1"/><feComponentTransfer><feFuncR type="table" tableValues="0.941 0.965 0.969 0.922"/><feFuncG type="table" tableValues="0.463 0.612 0.824 1.000"/><feFuncB type="table" tableValues="0.227 0.176 0.176 0.196"/></feComponentTransfer><feGaussianBlur stdDeviation="0.85"/></filter>
<filter id="nz3" x="0" y="0" width="1" height="1" color-interpolation-filters="sRGB"><feTurbulence type="fractalNoise" baseFrequency="0.26" numOctaves="2" seed="23" result="n"/><feColorMatrix in="n" type="matrix" values="1.7 0 0 0 -0.350  1.7 0 0 0 -0.350  1.7 0 0 0 -0.350  0 0 0 0 1"/><feComponentTransfer><feFuncR type="table" tableValues="0.282 0.447 0.541 0.667"/><feFuncG type="table" tableValues="0.039 0.094 0.133 0.196"/><feFuncB type="table" tableValues="0.784 0.808 0.804 0.745"/></feComponentTransfer><feGaussianBlur stdDeviation="0.85"/></filter>
<filter id="nz4" x="0" y="0" width="1" height="1" color-interpolation-filters="sRGB"><feTurbulence type="fractalNoise" baseFrequency="0.15" numOctaves="2" seed="31" result="n"/><feColorMatrix in="n" type="matrix" values="1.5 0 0 0 -0.250  1.5 0 0 0 -0.250  1.5 0 0 0 -0.250  0 0 0 0 1"/><feComponentTransfer><feFuncR type="table" tableValues="0.776 0.824 0.847 0.894"/><feFuncG type="table" tableValues="0.282 0.325 0.353 0.412"/><feFuncB type="table" tableValues="0.502 0.439 0.412 0.361"/></feComponentTransfer><feGaussianBlur stdDeviation="0.85"/></filter>
<filter id="nz5" x="0" y="0" width="1" height="1" color-interpolation-filters="sRGB"><feTurbulence type="fractalNoise" baseFrequency="0.24" numOctaves="2" seed="41" result="n"/><feColorMatrix in="n" type="matrix" values="2.5 0 0 0 -0.650  2.5 0 0 0 -0.650  2.5 0 0 0 -0.650  0 0 0 0 1"/><feComponentTransfer><feFuncR type="table" tableValues="0.961 0.961 0.933 0.925"/><feFuncG type="table" tableValues="0.588 0.765 0.980 1.000"/><feFuncB type="table" tableValues="0.176 0.176 0.196 0.196"/></feComponentTransfer><feGaussianBlur stdDeviation="0.85"/></filter>
</defs>
<rect x="131.5" y="963.5" width="347.5" height="347.5" fill="rgb(36, 6, 162)"/>
<rect x="131.5" y="963.5" width="347.5" height="347.5" fill="rgb(36, 6, 162)" filter="url(#nz0)"/>
<rect x="497" y="963.5" width="351" height="348.5" fill="rgb(192, 65, 153)"/>
<rect x="497" y="963.5" width="351" height="348.5" fill="rgb(192, 65, 153)" filter="url(#nz1)"/>
<rect x="870" y="961.5" width="351" height="350.0" fill="rgb(246, 156, 45)"/>
<rect x="870" y="961.5" width="351" height="350.0" fill="rgb(246, 156, 45)" filter="url(#nz2)"/>
<rect x="121.5" y="1332.5" width="353.5" height="351.5" fill="rgb(114, 24, 206)"/>
<rect x="121.5" y="1332.5" width="353.5" height="351.5" fill="rgb(114, 24, 206)" filter="url(#nz3)"/>
<rect x="495" y="1332.5" width="354" height="351.5" fill="rgb(210, 83, 112)"/>
<rect x="495" y="1332.5" width="354" height="351.5" fill="rgb(210, 83, 112)" filter="url(#nz4)"/>
<rect x="866.5" y="1336" width="352.5" height="350" fill="rgb(245, 195, 45)"/>
<rect x="866.5" y="1336" width="352.5" height="350" fill="rgb(245, 195, 45)" filter="url(#nz5)"/>
<path d="M496.5 1684H848.5" stroke="#f3d24a" stroke-width="1.6" stroke-dasharray="7 2 11 3 5 2"/>
<linearGradient id="g2" x1="0" y1="0.6" x2="1" y2="0.3"><stop offset="0.35" stop-color="#8a2be0" stop-opacity="0"/><stop offset="1" stop-color="#8a2be0" stop-opacity="0.20"/></linearGradient>
<rect x="496" y="963.5" width="352" height="348.5" fill="url(#g2)"/>
<rect x="129.75" y="963.25" width="241.5" height="75.5" fill="#fff" stroke="#000" stroke-width="3.5" stroke-linejoin="round"/>
<text x="153.8" y="1014.5" font-size="40.5" textLength="182" lengthAdjust="spacingAndGlyphs" font-family="Liberation Sans, sans-serif" fill="#111">pH = 4.65</text>
<rect x="495.75" y="963.25" width="244.0" height="75.5" fill="#fff" stroke="#000" stroke-width="3.5" stroke-linejoin="round"/>
<text x="520.3" y="1014.5" font-size="40.5" textLength="182" lengthAdjust="spacingAndGlyphs" font-family="Liberation Sans, sans-serif" fill="#111">pH = 5.62</text>
<rect x="867.25" y="961.75" width="242.5" height="74.5" fill="#fff" stroke="#000" stroke-width="3.5" stroke-linejoin="round"/>
<text x="895.3" y="1013" font-size="40.5" textLength="182" lengthAdjust="spacingAndGlyphs" font-family="Liberation Sans, sans-serif" fill="#111">pH = 6.54</text>
<rect x="121.75" y="1332.75" width="243.5" height="75.0" fill="#fff" stroke="#000" stroke-width="3.5" stroke-linejoin="round"/>
<text x="147.3" y="1384.5" font-size="40.5" textLength="182" lengthAdjust="spacingAndGlyphs" font-family="Liberation Sans, sans-serif" fill="#111">pH = 5.16</text>
<rect x="495.75" y="1332.75" width="244.0" height="76.0" fill="#fff" stroke="#000" stroke-width="3.5" stroke-linejoin="round"/>
<text x="521.3" y="1385" font-size="40.5" textLength="182" lengthAdjust="spacingAndGlyphs" font-family="Liberation Sans, sans-serif" fill="#111">pH = 6.26</text>
<rect x="865.75" y="1336.75" width="243.0" height="74.5" fill="#fff" stroke="#000" stroke-width="3.5" stroke-linejoin="round"/>
<text x="891.8" y="1390" font-size="40.5" textLength="182" lengthAdjust="spacingAndGlyphs" font-family="Liberation Sans, sans-serif" fill="#111">pH = 7.14</text>
</g>
<g id="pc">
<path d="M212.5 2386.5A442.5 487.5 0 0 1 1097.5 2386.5" fill="none" stroke="#2a2a2a" stroke-width="1.7"/>
<circle cx="430.5" cy="1990.5" r="7" fill="rgb(224, 255, 44)"/>
<circle cx="432.5" cy="1973.5" r="7" fill="rgb(236, 230, 46)"/>
<circle cx="446.0" cy="1979.0" r="7" fill="rgb(241, 214, 46)"/>
<circle cx="466.0" cy="1981.0" r="7" fill="rgb(244, 194, 46)"/>
<circle cx="492.6" cy="1989.5" r="7" fill="rgb(245, 165, 48)"/>
<circle cx="529.4" cy="1995.7" r="7" fill="rgb(244, 140, 60)"/>
<circle cx="595.5" cy="2015.0" r="7" fill="rgb(232, 95, 95)"/>
<circle cx="668.3" cy="2036.7" r="7" fill="rgb(200, 45, 158)"/>
<circle cx="724.0" cy="2056.5" r="7" fill="rgb(160, 30, 186)"/>
<circle cx="784.0" cy="2072.5" r="7" fill="rgb(122, 20, 200)"/>
<circle cx="854.0" cy="2090.5" r="7" fill="rgb(26, 10, 150)"/>
<circle cx="875.0" cy="2099.0" r="7" fill="rgb(26, 10, 150)"/>
<path d="M389.5 1963.4L1055 2145.6" fill="none" stroke="#2a2a2a" stroke-width="2.3" stroke-dasharray="8 4.5"/>
<rect x="124.5" y="1850.0" width="1061.0" height="536.5" fill="none" stroke="#4a4a4a" stroke-width="1.8"/>
<path d="M260 1850.0h8" stroke="#111" stroke-width="2.2"/>
<path d="M576 1850.0h8" stroke="#111" stroke-width="2.2"/>
<path d="M927.5 1850.0h8" stroke="#111" stroke-width="2.2"/>
<path d="M994 1850.0h8" stroke="#111" stroke-width="2.2"/>
<path d="M117.5 2386.5H124.5M117.5 2289.0H124.5M117.5 2191.5H124.5M117.5 2094.0H124.5M117.5 1996.5H124.5M117.5 1899.0H124.5M212.5 2386.5v7M389.5 2386.5v7M566.5 2386.5v7M743.5 2386.5v7M920.5 2386.5v7M1097.5 2386.5v7" stroke="#4a4a4a" stroke-width="1.8" fill="none"/>
<text x="110" y="2403.1" font-size="46.5" text-anchor="end" textLength="63.5" lengthAdjust="spacingAndGlyphs" font-family="Liberation Sans, sans-serif" fill="#111">0.0</text>
<text x="110" y="2305.6" font-size="46.5" text-anchor="end" textLength="63.5" lengthAdjust="spacingAndGlyphs" font-family="Liberation Sans, sans-serif" fill="#111">0.1</text>
<text x="110" y="2208.1" font-size="46.5" text-anchor="end" textLength="63.5" lengthAdjust="spacingAndGlyphs" font-family="Liberation Sans, sans-serif" fill="#111">0.2</text>
<text x="110" y="2110.6" font-size="46.5" text-anchor="end" textLength="63.5" lengthAdjust="spacingAndGlyphs" font-family="Liberation Sans, sans-serif" fill="#111">0.3</text>
<text x="110" y="2013.1" font-size="46.5" text-anchor="end" textLength="63.5" lengthAdjust="spacingAndGlyphs" font-family="Liberation Sans, sans-serif" fill="#111">0.4</text>
<text x="110" y="1915.6" font-size="46.5" text-anchor="end" textLength="63.5" lengthAdjust="spacingAndGlyphs" font-family="Liberation Sans, sans-serif" fill="#111">0.5</text>
<text x="212.5" y="2432.6" font-size="46" text-anchor="middle" textLength="63.5" lengthAdjust="spacingAndGlyphs" font-family="Liberation Sans, sans-serif" fill="#111">0.0</text>
<text x="389.5" y="2432.6" font-size="46" text-anchor="middle" textLength="63.5" lengthAdjust="spacingAndGlyphs" font-family="Liberation Sans, sans-serif" fill="#111">0.2</text>
<text x="566.5" y="2432.6" font-size="46" text-anchor="middle" textLength="63.5" lengthAdjust="spacingAndGlyphs" font-family="Liberation Sans, sans-serif" fill="#111">0.4</text>
<text x="743.5" y="2432.6" font-size="46" text-anchor="middle" textLength="63.5" lengthAdjust="spacingAndGlyphs" font-family="Liberation Sans, sans-serif" fill="#111">0.6</text>
<text x="920.5" y="2432.6" font-size="46" text-anchor="middle" textLength="63.5" lengthAdjust="spacingAndGlyphs" font-family="Liberation Sans, sans-serif" fill="#111">0.8</text>
<text x="1097.5" y="2432.6" font-size="46" text-anchor="middle" textLength="63.5" lengthAdjust="spacingAndGlyphs" font-family="Liberation Sans, sans-serif" fill="#111">1.0</text>
<text x="654.5" y="2482.5" font-size="48" text-anchor="middle" textLength="33" lengthAdjust="spacingAndGlyphs" font-family="Liberation Sans, sans-serif" fill="#111">g</text>
<text transform="translate(35.5,2121.6) rotate(-90)" font-size="61" text-anchor="middle" textLength="25" lengthAdjust="spacingAndGlyphs" font-family="Liberation Sans, sans-serif" fill="#111">s</text>
<linearGradient id="plasma" x1="0" y1="1" x2="0" y2="0"><stop offset="0.00" stop-color="rgb(33, 9, 158)"/><stop offset="0.08" stop-color="rgb(55, 14, 182)"/><stop offset="0.17" stop-color="rgb(95, 20, 206)"/><stop offset="0.26" stop-color="rgb(130, 30, 205)"/><stop offset="0.34" stop-color="rgb(160, 45, 185)"/><stop offset="0.41" stop-color="rgb(175, 55, 165)"/><stop offset="0.49" stop-color="rgb(200, 70, 135)"/><stop offset="0.58" stop-color="rgb(220, 90, 105)"/><stop offset="0.67" stop-color="rgb(232, 120, 85)"/><stop offset="0.76" stop-color="rgb(238, 155, 65)"/><stop offset="0.84" stop-color="rgb(240, 185, 55)"/><stop offset="0.93" stop-color="rgb(240, 225, 60)"/><stop offset="1.00" stop-color="rgb(232, 255, 70)"/></linearGradient>
<rect x="1238.7" y="1840.3" width="28.59999999999991" height="553.3" fill="url(#plasma)" stroke="#4a4a4a" stroke-width="1.5"/>
<text x="1280.5" y="1893.4" font-size="36.5" textLength="51" lengthAdjust="spacingAndGlyphs" font-family="Liberation Sans, sans-serif" fill="#111">3.5</text>
<text x="1280.5" y="2001.4" font-size="36.5" textLength="51" lengthAdjust="spacingAndGlyphs" font-family="Liberation Sans, sans-serif" fill="#111">3.0</text>
<text x="1280.5" y="2108.9" font-size="36.5" textLength="51" lengthAdjust="spacingAndGlyphs" font-family="Liberation Sans, sans-serif" fill="#111">2.5</text>
<text x="1280.5" y="2216.2" font-size="36.5" textLength="51" lengthAdjust="spacingAndGlyphs" font-family="Liberation Sans, sans-serif" fill="#111">2.0</text>
<text x="1280.5" y="2323.7" font-size="36.5" textLength="51" lengthAdjust="spacingAndGlyphs" font-family="Liberation Sans, sans-serif" fill="#111">1.5</text>
<path d="M1267.3 1880h7M1267.3 1988h7M1267.3 2095.5h7M1267.3 2202.8h7M1267.3 2310.3h7" stroke="#4a4a4a" stroke-width="1.8" fill="none"/>
<text transform="translate(1366.4,2111.5) rotate(90)" font-size="51" text-anchor="middle" textLength="272" lengthAdjust="spacingAndGlyphs" font-family="Liberation Sans, sans-serif" fill="#111">Lifetime (ns)</text>
</g>
</svg>
</body></html>
